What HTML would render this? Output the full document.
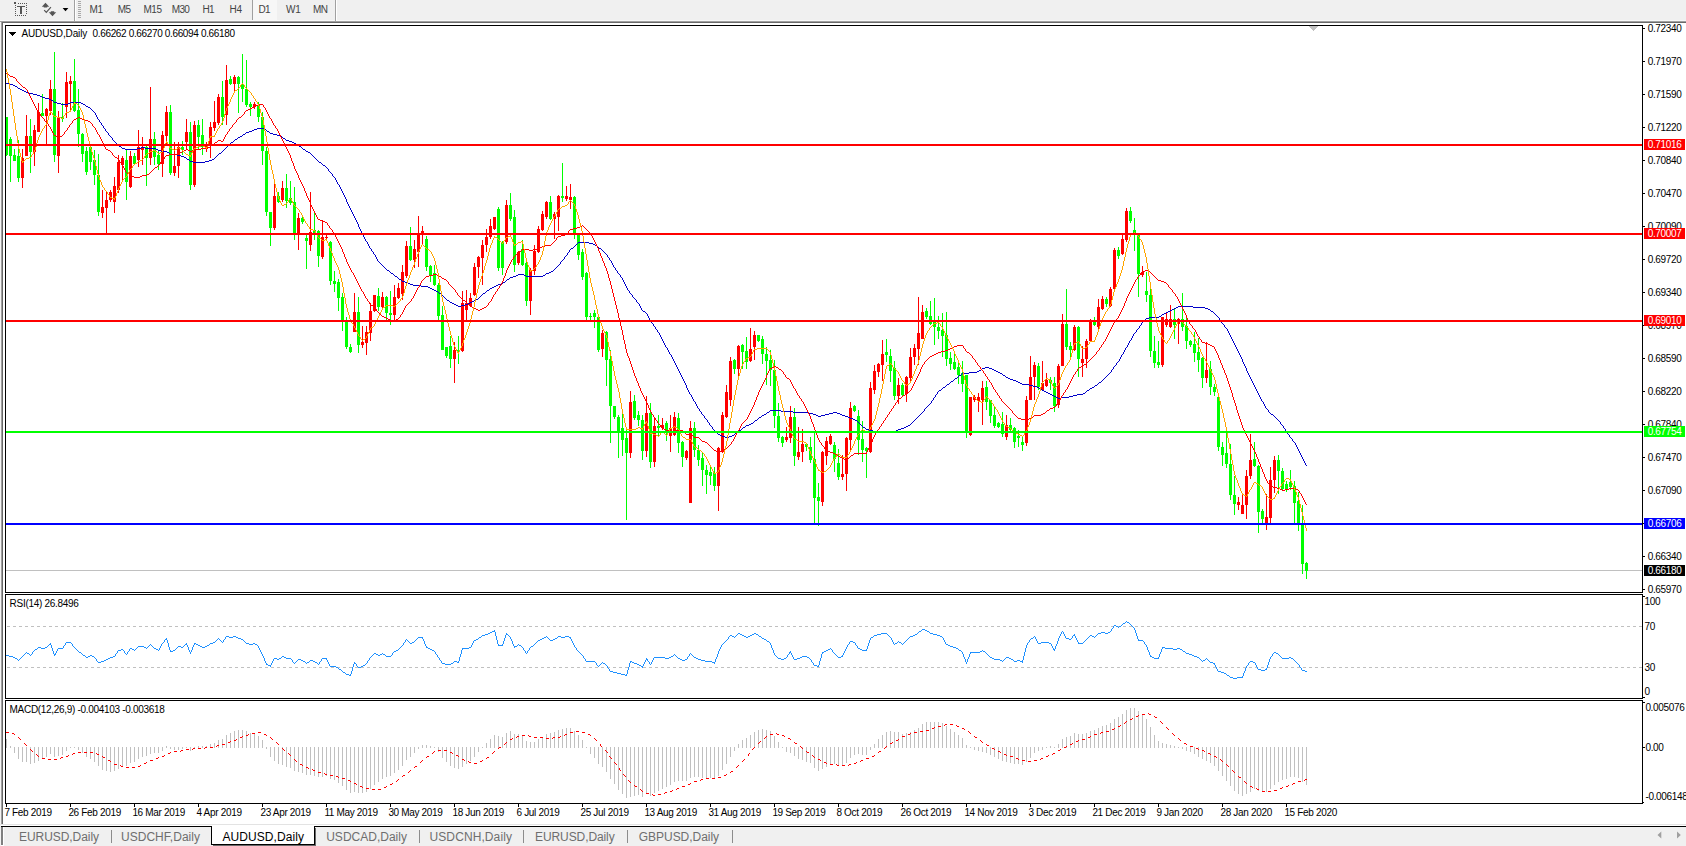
<!DOCTYPE html>
<html><head><meta charset="utf-8"><title>AUDUSD,Daily</title>
<style>
html,body{margin:0;padding:0}
body{width:1686px;height:846px;position:relative;overflow:hidden;background:#fff;font-family:"Liberation Sans",sans-serif}
.t{position:absolute;white-space:pre;font-family:"Liberation Sans",sans-serif}
.a{position:absolute}
</style></head><body>
<div class="a" style="left:0;top:0;width:1686px;height:21px;background:#f0f0f0"></div>
<div class="a" style="left:0;top:20px;width:1686px;height:1px;background:#f8f8f8"></div>
<div class="a" style="left:0;top:21px;width:1686px;height:1px;background:#a0a0a0"></div>
<div class="a" style="left:1px;top:22px;width:1685px;height:1px;background:#696969"></div>
<div class="a" style="left:0;top:22px;width:1px;height:824px;background:#f4f4f4"></div>
<div class="a" style="left:1px;top:22px;width:1px;height:803px;background:#a0a0a0"></div>
<div class="a" style="left:2px;top:23px;width:1px;height:802px;background:#696969"></div>
<div class="a" style="left:0;top:824px;width:1686px;height:1px;background:#e3e3e3"></div>
<div class="a" style="left:4px;top:827px;width:1682px;height:19px;background:#f0f0f0"></div>
<div class="a" style="left:1px;top:827px;width:2px;height:18px;background:#808080"></div>
<div class="a" style="left:1px;top:826px;width:1685px;height:1px;background:#000"></div>
<svg class="a" style="left:0;top:0" width="74" height="21" viewBox="0 0 74 21">
<path d="M18 3h1v1h-1zM20 3h1v1h-1zM22 3h1v1h-1zM24 3h1v1h-1zM26 3h1v1h-1zM15 5h1v1h-1zM15 7h1v1h-1zM15 9h1v1h-1zM15 11h1v1h-1zM15 13h1v1h-1zM15 15h1v1h-1zM26 5h1v1h-1zM26 7h1v1h-1zM26 9h1v1h-1zM26 11h1v1h-1zM26 13h1v1h-1zM17 15h1v1h-1zM19 15h1v1h-1zM21 15h1v1h-1zM23 15h1v1h-1zM25 15h1v1h-1zM14 2h2v2h-2zM17 6h8v1h-8zM20 7h2v7h-2z" fill="#555" shape-rendering="crispEdges"/>
<path d="M45.5 2.7l3.7 4h-2v0.9h-3.4v-0.9h-2z" fill="#555"/>
<path d="M52.5 16.2l3.7-4h-2v-0.9h-3.4v0.9h-2z" fill="#555"/>
<path d="M44.2 10.1l2.1 2.3 4.6-5.3" fill="none" stroke="#555" stroke-width="1.2"/>
<path d="M62.6 8h5.8l-2.9 3.3z" fill="#000"/>
</svg>
<div class="a" style="left:74px;top:0;width:1px;height:21px;background:#a0a0a0"></div>
<div class="a" style="left:75px;top:0;width:1px;height:21px;background:#fff"></div>
<svg class="a" style="left:78px;top:0" width="3" height="20" shape-rendering="crispEdges"><rect x="0" y="1" width="3" height="1" fill="#a8a8a8"/><rect x="0" y="3" width="3" height="1" fill="#a8a8a8"/><rect x="0" y="5" width="3" height="1" fill="#a8a8a8"/><rect x="0" y="7" width="3" height="1" fill="#a8a8a8"/><rect x="0" y="9" width="3" height="1" fill="#a8a8a8"/><rect x="0" y="11" width="3" height="1" fill="#a8a8a8"/><rect x="0" y="13" width="3" height="1" fill="#a8a8a8"/><rect x="0" y="15" width="3" height="1" fill="#a8a8a8"/><rect x="0" y="17" width="3" height="1" fill="#a8a8a8"/></svg>
<div class="a" style="left:252px;top:0;width:1px;height:20px;background:#a0a0a0"></div>
<div class="a" style="left:253px;top:0;width:24px;height:20px;background:#f7f7f7"></div>
<div class="t" style="left:89.60px;top:4.20px;font-size:10px;line-height:12px;color:#444;letter-spacing:-0.546px;">M1</div>
<div class="t" style="left:117.70px;top:4.20px;font-size:10px;line-height:12px;color:#444;letter-spacing:-0.546px;">M5</div>
<div class="t" style="left:143.60px;top:4.20px;font-size:10px;line-height:12px;color:#444;letter-spacing:-0.551px;">M15</div>
<div class="t" style="left:171.70px;top:4.20px;font-size:10px;line-height:12px;color:#444;letter-spacing:-0.618px;">M30</div>
<div class="t" style="left:202.40px;top:4.20px;font-size:10px;line-height:12px;color:#444;letter-spacing:-0.492px;">H1</div>
<div class="t" style="left:229.50px;top:4.20px;font-size:10px;line-height:12px;color:#444;letter-spacing:-0.142px;">H4</div>
<div class="t" style="left:258.50px;top:4.20px;font-size:10px;line-height:12px;color:#444;letter-spacing:-0.642px;">D1</div>
<div class="t" style="left:286.00px;top:4.20px;font-size:10px;line-height:12px;color:#444;letter-spacing:-0.300px;">W1</div>
<div class="t" style="left:312.90px;top:4.20px;font-size:10px;line-height:12px;color:#444;letter-spacing:-0.476px;">MN</div>
<div class="a" style="left:335px;top:0;width:1px;height:21px;background:#a0a0a0"></div>
<div class="a" style="left:336px;top:0;width:1px;height:21px;background:#fff"></div>
<svg width="1686" height="846" viewBox="0 0 1686 846" shape-rendering="crispEdges" style="position:absolute;left:0;top:0">
<defs><clipPath id="cm"><rect x="6" y="26" width="1636" height="566"/></clipPath><clipPath id="cr"><rect x="6" y="595" width="1636" height="103"/></clipPath><clipPath id="cd"><rect x="6" y="701" width="1636" height="102"/></clipPath></defs>
<rect x="6" y="570" width="1636" height="1" fill="#c0c0c0"/>
<g clip-path="url(#cm)">
<path d="M6 117h1V156h-1zM5 117h3V155h-3zM10 137h1V182h-1zM9 139h3V156h-3zM14 149h1V161h-1zM13 155h3V161h-3zM18 140h1V182h-1zM17 156h3V178h-3zM30 119h1V173h-1zM29 136h3V152h-3zM42 94h1V116h-1zM41 113h3V116h-3zM54 52h1V162h-1zM53 89h3V155h-3zM62 103h1V122h-1zM61 117h3V119h-3zM74 59h1V112h-1zM73 81h3V111h-3zM78 89h1V147h-1zM77 110h3V134h-3zM82 133h1V162h-1zM81 134h3V154h-3zM86 147h1V175h-1zM85 151h3V172h-3zM90 147h1V170h-1zM89 147h3V162h-3zM94 150h1V185h-1zM93 160h3V175h-3zM98 154h1V216h-1zM97 175h3V212h-3zM126 150h1V200h-1zM125 160h3V182h-3zM134 153h1V165h-1zM133 156h3V164h-3zM146 145h1V186h-1zM145 147h3V158h-3zM154 132h1V165h-1zM153 139h3V157h-3zM158 150h1V170h-1zM157 155h3V164h-3zM170 105h1V175h-1zM169 112h3V173h-3zM182 141h1V155h-1zM181 147h3V150h-3zM190 122h1V190h-1zM189 132h3V185h-3zM198 120h1V150h-1zM197 125h3V137h-3zM202 119h1V155h-1zM201 135h3V147h-3zM222 81h1V125h-1zM221 97h3V117h-3zM230 76h1V85h-1zM229 79h3V84h-3zM238 76h1V113h-1zM237 77h3V84h-3zM242 54h1V102h-1zM241 84h3V89h-3zM246 60h1V107h-1zM245 89h3V105h-3zM250 102h1V116h-1zM249 104h3V107h-3zM258 102h1V122h-1zM257 105h3V117h-3zM262 112h1V165h-1zM261 117h3V151h-3zM266 147h1V216h-1zM265 151h3V212h-3zM270 212h1V246h-1zM269 212h3V228h-3zM278 192h1V203h-1zM277 196h3V202h-3zM286 174h1V208h-1zM285 188h3V201h-3zM290 181h1V205h-1zM289 198h3V203h-3zM294 187h1V240h-1zM293 202h3V233h-3zM302 216h1V224h-1zM301 218h3V222h-3zM306 235h1V269h-1zM305 238h3V241h-3zM314 212h1V240h-1zM313 230h3V235h-3zM318 230h1V267h-1zM317 231h3V256h-3zM330 241h1V285h-1zM329 242h3V281h-3zM334 271h1V292h-1zM333 281h3V284h-3zM338 279h1V311h-1zM337 282h3V298h-3zM342 293h1V331h-1zM341 297h3V320h-3zM346 317h1V349h-1zM345 320h3V347h-3zM350 344h1V353h-1zM349 347h3V352h-3zM358 297h1V353h-1zM357 312h3V345h-3zM378 288h1V311h-1zM377 296h3V307h-3zM386 296h1V320h-1zM385 297h3V313h-3zM390 291h1V325h-1zM389 313h3V315h-3zM410 227h1V261h-1zM409 246h3V260h-3zM426 236h1V271h-1zM425 239h3V267h-3zM430 265h1V282h-1zM429 266h3V275h-3zM434 265h1V286h-1zM433 273h3V285h-3zM438 283h1V322h-1zM437 285h3V316h-3zM442 306h1V350h-1zM441 315h3V350h-3zM446 347h1V358h-1zM445 347h3V356h-3zM450 336h1V368h-1zM449 346h3V359h-3zM458 336h1V364h-1zM457 350h3V351h-3zM498 207h1V271h-1zM497 209h3V268h-3zM502 241h1V275h-1zM501 242h3V268h-3zM510 193h1V221h-1zM509 205h3V219h-3zM514 210h1V272h-1zM513 217h3V265h-3zM522 240h1V266h-1zM521 249h3V265h-3zM526 262h1V306h-1zM525 263h3V301h-3zM550 196h1V220h-1zM549 202h3V219h-3zM562 163h1V202h-1zM561 196h3V198h-3zM574 196h1V239h-1zM573 197h3V235h-3zM578 234h1V260h-1zM577 235h3V255h-3zM582 249h1V280h-1zM581 252h3V277h-3zM586 272h1V320h-1zM585 273h3V317h-3zM590 313h1V320h-1zM589 316h3V317h-3zM594 310h1V328h-1zM593 313h3V317h-3zM598 316h1V352h-1zM597 317h3V350h-3zM606 331h1V386h-1zM605 332h3V360h-3zM610 350h1V443h-1zM609 359h3V406h-3zM614 406h1V419h-1zM613 406h3V417h-3zM618 415h1V458h-1zM617 417h3V431h-3zM622 413h1V456h-1zM621 428h3V440h-3zM626 427h1V520h-1zM625 438h3V453h-3zM634 395h1V420h-1zM633 401h3V418h-3zM638 411h1V426h-1zM637 415h3V420h-3zM642 415h1V460h-1zM641 420h3V451h-3zM650 403h1V468h-1zM649 413h3V462h-3zM658 415h1V436h-1zM657 426h3V428h-3zM666 421h1V441h-1zM665 423h3V433h-3zM678 413h1V453h-1zM677 418h3V443h-3zM682 441h1V467h-1zM681 442h3V457h-3zM694 422h1V457h-1zM693 428h3V450h-3zM698 445h1V466h-1zM697 450h3V460h-3zM702 453h1V486h-1zM701 458h3V470h-3zM706 465h1V494h-1zM705 470h3V475h-3zM710 467h1V485h-1zM709 472h3V476h-3zM714 467h1V491h-1zM713 473h3V486h-3zM734 359h1V374h-1zM733 360h3V369h-3zM742 344h1V369h-1zM741 345h3V352h-3zM746 337h1V369h-1zM745 351h3V362h-3zM758 335h1V342h-1zM757 335h3V341h-3zM762 336h1V364h-1zM761 339h3V354h-3zM766 347h1V385h-1zM765 354h3V361h-3zM770 350h1V386h-1zM769 360h3V370h-3zM774 360h1V428h-1zM773 370h3V416h-3zM778 403h1V442h-1zM777 416h3V438h-3zM782 436h1V447h-1zM781 437h3V443h-3zM794 408h1V466h-1zM793 417h3V456h-3zM806 443h1V451h-1zM805 444h3V447h-3zM810 437h1V463h-1zM809 447h3V460h-3zM814 432h1V523h-1zM813 459h3V498h-3zM818 483h1V526h-1zM817 497h3V501h-3zM834 442h1V472h-1zM833 445h3V459h-3zM838 449h1V480h-1zM837 463h3V477h-3zM854 405h1V412h-1zM853 406h3V411h-3zM858 410h1V455h-1zM857 416h3V440h-3zM862 421h1V462h-1zM861 439h3V450h-3zM866 447h1V478h-1zM865 448h3V451h-3zM886 339h1V362h-1zM885 352h3V355h-3zM890 349h1V382h-1zM889 356h3V371h-3zM894 361h1V400h-1zM893 368h3V396h-3zM902 383h1V396h-1zM901 385h3V395h-3zM926 308h1V319h-1zM925 311h3V317h-3zM930 301h1V325h-1zM929 316h3V324h-3zM934 298h1V345h-1zM933 322h3V327h-3zM938 316h1V339h-1zM937 327h3V331h-3zM942 313h1V357h-1zM941 330h3V336h-3zM946 312h1V366h-1zM945 335h3V359h-3zM950 352h1V370h-1zM949 358h3V364h-3zM954 354h1V370h-1zM953 362h3V369h-3zM958 361h1V384h-1zM957 367h3V375h-3zM962 361h1V392h-1zM961 373h3V384h-3zM966 375h1V438h-1zM965 375h3V432h-3zM986 381h1V410h-1zM985 387h3V402h-3zM990 400h1V423h-1zM989 400h3V416h-3zM994 407h1V428h-1zM993 415h3V426h-3zM998 422h1V428h-1zM997 423h3V427h-3zM1002 412h1V437h-1zM1001 424h3V434h-3zM1010 418h1V431h-1zM1009 425h3V430h-3zM1014 427h1V448h-1zM1013 428h3V442h-3zM1018 430h1V447h-1zM1017 436h3V438h-3zM1022 437h1V451h-1zM1021 442h3V445h-3zM1038 363h1V390h-1zM1037 366h3V387h-3zM1050 377h1V390h-1zM1049 380h3V383h-3zM1054 377h1V412h-1zM1053 383h3V406h-3zM1066 289h1V350h-1zM1065 324h3V347h-3zM1070 342h1V359h-1zM1069 346h3V350h-3zM1078 326h1V377h-1zM1077 327h3V359h-3zM1094 317h1V326h-1zM1093 320h3V325h-3zM1106 297h1V307h-1zM1105 299h3V304h-3zM1118 247h1V259h-1zM1117 250h3V256h-3zM1130 207h1V223h-1zM1129 211h3V221h-3zM1134 218h1V251h-1zM1133 230h3V233h-3zM1138 233h1V297h-1zM1137 234h3V274h-3zM1146 272h1V302h-1zM1145 291h3V295h-3zM1150 289h1V357h-1zM1149 295h3V351h-3zM1154 336h1V368h-1zM1153 351h3V363h-3zM1158 341h1V368h-1zM1157 362h3V365h-3zM1174 309h1V339h-1zM1173 319h3V325h-3zM1182 293h1V331h-1zM1181 319h3V327h-3zM1186 315h1V349h-1zM1185 326h3V341h-3zM1190 340h1V347h-1zM1189 341h3V345h-3zM1194 332h1V362h-1zM1193 344h3V353h-3zM1198 338h1V372h-1zM1197 352h3V360h-3zM1202 357h1V388h-1zM1201 358h3V378h-3zM1210 361h1V395h-1zM1209 369h3V387h-3zM1214 384h1V396h-1zM1213 387h3V392h-3zM1218 396h1V451h-1zM1217 397h3V447h-3zM1222 442h1V466h-1zM1221 447h3V455h-3zM1226 433h1V468h-1zM1225 453h3V464h-3zM1230 444h1V500h-1zM1229 464h3V495h-3zM1234 476h1V515h-1zM1233 495h3V504h-3zM1254 442h1V467h-1zM1253 459h3V466h-3zM1258 465h1V533h-1zM1257 466h3V512h-3zM1262 509h1V523h-1zM1261 511h3V519h-3zM1278 455h1V494h-1zM1277 460h3V471h-3zM1282 468h1V490h-1zM1281 471h3V489h-3zM1286 481h1V492h-1zM1285 484h3V490h-3zM1290 470h1V490h-1zM1289 482h3V487h-3zM1294 481h1V524h-1zM1293 486h3V503h-3zM1298 492h1V531h-1zM1297 501h3V523h-3zM1302 505h1V574h-1zM1301 523h3V564h-3zM1306 562h1V579h-1zM1305 563h3V571h-3z" fill="#00ff00"/>
<path d="M22 149h1V188h-1zM21 158h3V178h-3zM26 115h1V156h-1zM25 136h3V156h-3zM34 125h1V166h-1zM33 130h3V152h-3zM38 103h1V132h-1zM37 112h3V132h-3zM46 108h1V145h-1zM45 109h3V116h-3zM50 80h1V115h-1zM49 89h3V111h-3zM58 111h1V173h-1zM57 117h3V156h-3zM66 72h1V118h-1zM65 82h3V107h-3zM70 76h1V112h-1zM69 81h3V84h-3zM102 190h1V218h-1zM101 207h3V213h-3zM106 192h1V233h-1zM105 200h3V208h-3zM110 190h1V202h-1zM109 192h3V200h-3zM114 177h1V213h-1zM113 186h3V202h-3zM118 155h1V193h-1zM117 162h3V190h-3zM122 156h1V180h-1zM121 158h3V165h-3zM130 151h1V188h-1zM129 156h3V187h-3zM138 130h1V167h-1zM137 147h3V160h-3zM142 137h1V165h-1zM141 147h3V150h-3zM150 87h1V165h-1zM149 139h3V158h-3zM162 131h1V177h-1zM161 135h3V164h-3zM166 106h1V145h-1zM165 112h3V136h-3zM174 142h1V176h-1zM173 166h3V173h-3zM178 142h1V178h-1zM177 147h3V166h-3zM186 119h1V150h-1zM185 132h3V142h-3zM194 121h1V187h-1zM193 125h3V185h-3zM206 142h1V152h-1zM205 145h3V149h-3zM210 122h1V158h-1zM209 127h3V145h-3zM214 101h1V131h-1zM213 122h3V128h-3zM218 94h1V125h-1zM217 97h3V123h-3zM226 65h1V125h-1zM225 80h3V115h-3zM234 75h1V92h-1zM233 77h3V84h-3zM254 102h1V109h-1zM253 104h3V107h-3zM274 183h1V230h-1zM273 196h3V228h-3zM282 181h1V202h-1zM281 188h3V200h-3zM298 213h1V250h-1zM297 218h3V233h-3zM310 192h1V251h-1zM309 232h3V245h-3zM322 220h1V259h-1zM321 237h3V257h-3zM326 235h1V240h-1zM325 237h3V238h-3zM354 293h1V332h-1zM353 312h3V332h-3zM362 326h1V348h-1zM361 342h3V345h-3zM366 326h1V355h-1zM365 332h3V343h-3zM370 303h1V341h-1zM369 311h3V333h-3zM374 295h1V312h-1zM373 295h3V311h-3zM382 292h1V310h-1zM381 297h3V307h-3zM394 285h1V322h-1zM393 297h3V315h-3zM398 283h1V299h-1zM397 288h3V298h-3zM402 265h1V300h-1zM401 272h3V294h-3zM406 241h1V278h-1zM405 246h3V276h-3zM414 240h1V268h-1zM413 249h3V260h-3zM418 216h1V267h-1zM417 234h3V252h-3zM422 226h1V245h-1zM421 231h3V234h-3zM454 342h1V383h-1zM453 350h3V359h-3zM462 291h1V352h-1zM461 303h3V351h-3zM466 290h1V320h-1zM465 303h3V310h-3zM470 293h1V307h-1zM469 298h3V306h-3zM474 263h1V296h-1zM473 267h3V295h-3zM478 256h1V278h-1zM477 257h3V267h-3zM482 240h1V285h-1zM481 245h3V258h-3zM486 229h1V252h-1zM485 237h3V245h-3zM490 219h1V239h-1zM489 226h3V237h-3zM494 217h1V230h-1zM493 217h3V229h-3zM506 200h1V244h-1zM505 205h3V242h-3zM518 251h1V265h-1zM517 252h3V263h-3zM530 268h1V315h-1zM529 270h3V301h-3zM534 245h1V275h-1zM533 251h3V271h-3zM538 226h1V253h-1zM537 229h3V252h-3zM542 211h1V231h-1zM541 214h3V230h-3zM546 201h1V219h-1zM545 202h3V217h-3zM554 212h1V239h-1zM553 214h3V219h-3zM558 195h1V231h-1zM557 196h3V217h-3zM566 186h1V201h-1zM565 196h3V199h-3zM570 184h1V209h-1zM569 197h3V200h-3zM602 330h1V357h-1zM601 333h3V349h-3zM630 391h1V458h-1zM629 402h3V453h-3zM646 396h1V457h-1zM645 413h3V451h-3zM654 418h1V467h-1zM653 426h3V462h-3zM662 418h1V430h-1zM661 425h3V428h-3zM670 415h1V452h-1zM669 428h3V436h-3zM674 412h1V436h-1zM673 417h3V435h-3zM686 450h1V460h-1zM685 451h3V458h-3zM690 421h1V503h-1zM689 428h3V503h-3zM718 447h1V511h-1zM717 448h3V486h-3zM722 412h1V453h-1zM721 415h3V452h-3zM726 385h1V418h-1zM725 392h3V417h-3zM730 357h1V406h-1zM729 361h3V400h-3zM738 345h1V376h-1zM737 346h3V369h-3zM750 328h1V362h-1zM749 349h3V361h-3zM754 331h1V360h-1zM753 335h3V347h-3zM786 427h1V442h-1zM785 437h3V440h-3zM790 406h1V443h-1zM789 417h3V438h-3zM798 427h1V460h-1zM797 452h3V457h-3zM802 429h1V462h-1zM801 444h3V452h-3zM822 451h1V506h-1zM821 452h3V502h-3zM826 437h1V465h-1zM825 441h3V456h-3zM830 434h1V445h-1zM829 436h3V444h-3zM842 455h1V480h-1zM841 474h3V477h-3zM846 437h1V491h-1zM845 438h3V474h-3zM850 402h1V451h-1zM849 408h3V440h-3zM870 382h1V453h-1zM869 388h3V452h-3zM874 365h1V394h-1zM873 371h3V390h-3zM878 363h1V377h-1zM877 364h3V372h-3zM882 340h1V381h-1zM881 354h3V365h-3zM898 378h1V404h-1zM897 385h3V396h-3zM906 376h1V402h-1zM905 377h3V394h-3zM910 348h1V381h-1zM909 357h3V378h-3zM914 344h1V365h-1zM913 348h3V357h-3zM918 297h1V365h-1zM917 333h3V349h-3zM922 305h1V339h-1zM921 312h3V339h-3zM970 397h1V436h-1zM969 397h3V435h-3zM974 395h1V402h-1zM973 397h3V400h-3zM978 393h1V412h-1zM977 397h3V401h-3zM982 381h1V425h-1zM981 388h3V400h-3zM1006 415h1V440h-1zM1005 425h3V437h-3zM1026 396h1V446h-1zM1025 400h3V443h-3zM1030 356h1V400h-1zM1029 377h3V400h-3zM1034 362h1V400h-1zM1033 365h3V377h-3zM1042 361h1V391h-1zM1041 383h3V390h-3zM1046 373h1V387h-1zM1045 380h3V386h-3zM1058 364h1V408h-1zM1057 366h3V405h-3zM1062 314h1V366h-1zM1061 324h3V366h-3zM1074 325h1V351h-1zM1073 327h3V350h-3zM1082 346h1V377h-1zM1081 359h3V363h-3zM1086 339h1V368h-1zM1085 341h3V359h-3zM1090 319h1V342h-1zM1089 320h3V341h-3zM1098 299h1V330h-1zM1097 307h3V327h-3zM1102 296h1V310h-1zM1101 299h3V309h-3zM1110 287h1V307h-1zM1109 289h3V306h-3zM1114 248h1V290h-1zM1113 250h3V289h-3zM1122 235h1V255h-1zM1121 239h3V254h-3zM1126 208h1V242h-1zM1125 211h3V240h-3zM1142 266h1V277h-1zM1141 272h3V275h-3zM1162 317h1V367h-1zM1161 317h3V365h-3zM1166 312h1V327h-1zM1165 319h3V325h-3zM1170 305h1V328h-1zM1169 319h3V327h-3zM1178 318h1V344h-1zM1177 319h3V324h-3zM1206 342h1V383h-1zM1205 370h3V378h-3zM1238 497h1V510h-1zM1237 502h3V505h-3zM1242 495h1V514h-1zM1241 505h3V514h-3zM1246 470h1V519h-1zM1245 476h3V505h-3zM1250 434h1V479h-1zM1249 460h3V476h-3zM1266 494h1V530h-1zM1265 517h3V523h-3zM1270 467h1V523h-1zM1269 480h3V518h-3zM1274 456h1V493h-1zM1273 460h3V480h-3z" fill="#ff0000"/>
<path d="M6 83h3v1h-3zM9 84h4v1h-4zM13 85h2v1h-2zM15 86h2v1h-2zM18 88h2v1h-2zM20 89h2v1h-2zM22 90h2v1h-2zM24 91h2v1h-2zM26 92h3v1h-3zM29 93h4v1h-4zM33 94h4v1h-4zM37 95h3v1h-3zM40 96h2v1h-2zM42 97h3v1h-3zM45 98h4v1h-4zM49 99h2v1h-2zM51 100h2v1h-2zM54 102h3v1h-3zM57 103h4v1h-4zM61 104h7v1h-7zM68 103h2v1h-2zM70 102h11v1h-11zM81 103h2v1h-2zM83 104h2v1h-2zM86 106h2v1h-2zM88 107h2v1h-2zM119 146h2v1h-2zM122 148h3v1h-3zM125 149h12v1h-12zM137 148h4v1h-4zM141 147h4v1h-4zM145 148h11v1h-11zM156 149h2v1h-2zM158 150h3v1h-3zM161 151h6v1h-6zM167 152h2v1h-2zM170 154h7v1h-7zM177 155h4v1h-4zM181 156h3v1h-3zM184 157h2v1h-2zM187 159h2v1h-2zM190 161h3v1h-3zM193 162h12v1h-12zM205 161h4v1h-4zM209 160h3v1h-3zM212 159h2v1h-2zM219 153h2v1h-2zM231 142h2v1h-2zM235 139h2v1h-2zM238 137h2v1h-2zM240 136h2v1h-2zM243 134h2v1h-2zM246 132h3v1h-3zM249 131h3v1h-3zM252 130h2v1h-2zM254 129h3v1h-3zM257 128h7v1h-7zM264 129h2v1h-2zM267 131h2v1h-2zM270 133h3v1h-3zM273 134h4v1h-4zM277 135h3v1h-3zM280 136h2v1h-2zM283 138h2v1h-2zM286 140h3v1h-3zM289 141h3v1h-3zM292 142h2v1h-2zM294 143h2v1h-2zM296 144h2v1h-2zM299 146h2v1h-2zM303 149h2v1h-2zM306 151h2v1h-2zM308 152h2v1h-2zM319 162h2v1h-2zM323 165h2v1h-2zM387 270h2v1h-2zM391 273h2v1h-2zM395 276h2v1h-2zM399 279h2v1h-2zM402 281h3v1h-3zM405 282h3v1h-3zM408 283h2v1h-2zM410 284h3v1h-3zM413 285h8v1h-8zM421 286h7v1h-7zM428 287h2v1h-2zM430 288h2v1h-2zM432 289h2v1h-2zM434 290h2v1h-2zM436 291h2v1h-2zM439 293h2v1h-2zM447 300h2v1h-2zM450 302h2v1h-2zM452 303h2v1h-2zM454 304h2v1h-2zM456 305h2v1h-2zM458 306h3v1h-3zM461 305h4v1h-4zM465 304h3v1h-3zM468 303h2v1h-2zM470 302h2v1h-2zM472 301h2v1h-2zM474 300h2v1h-2zM476 299h2v1h-2zM483 293h2v1h-2zM487 290h2v1h-2zM490 288h2v1h-2zM492 287h2v1h-2zM494 286h2v1h-2zM496 285h2v1h-2zM498 284h3v1h-3zM501 283h2v1h-2zM503 282h2v1h-2zM507 279h2v1h-2zM510 277h3v1h-3zM513 276h3v1h-3zM516 275h2v1h-2zM518 274h6v1h-6zM524 275h2v1h-2zM526 276h17v1h-17zM543 275h2v1h-2zM546 273h3v1h-3zM549 272h2v1h-2zM551 271h2v1h-2zM571 248h2v1h-2zM578 242h11v1h-11zM589 243h4v1h-4zM593 244h2v1h-2zM595 245h2v1h-2zM599 248h2v1h-2zM643 311h2v1h-2zM718 434h2v1h-2zM720 435h2v1h-2zM722 436h3v1h-3zM725 437h4v1h-4zM729 436h3v1h-3zM732 435h2v1h-2zM735 433h2v1h-2zM739 430h2v1h-2zM743 427h2v1h-2zM746 425h3v1h-3zM749 424h2v1h-2zM751 423h2v1h-2zM755 420h2v1h-2zM759 417h2v1h-2zM762 415h2v1h-2zM764 414h2v1h-2zM767 412h2v1h-2zM770 410h11v1h-11zM781 411h12v1h-12zM793 412h16v1h-16zM809 413h4v1h-4zM813 414h3v1h-3zM816 415h2v1h-2zM818 416h3v1h-3zM821 415h4v1h-4zM825 414h4v1h-4zM829 413h4v1h-4zM833 412h4v1h-4zM837 413h3v1h-3zM840 414h2v1h-2zM842 415h3v1h-3zM845 416h3v1h-3zM848 417h2v1h-2zM850 418h3v1h-3zM853 419h2v1h-2zM855 420h2v1h-2zM863 427h2v1h-2zM866 429h3v1h-3zM869 430h4v1h-4zM873 431h4v1h-4zM877 432h16v1h-16zM893 431h3v1h-3zM896 430h2v1h-2zM898 429h3v1h-3zM901 428h3v1h-3zM904 427h2v1h-2zM906 426h2v1h-2zM908 425h2v1h-2zM939 390h2v1h-2zM943 387h2v1h-2zM947 384h2v1h-2zM951 381h2v1h-2zM955 378h2v1h-2zM959 375h2v1h-2zM962 373h7v1h-7zM969 372h8v1h-8zM977 371h2v1h-2zM979 370h2v1h-2zM982 368h3v1h-3zM985 367h4v1h-4zM989 368h3v1h-3zM992 369h2v1h-2zM994 370h2v1h-2zM996 371h2v1h-2zM998 372h2v1h-2zM1000 373h2v1h-2zM1003 375h2v1h-2zM1006 377h2v1h-2zM1008 378h2v1h-2zM1010 379h3v1h-3zM1013 380h3v1h-3zM1016 381h2v1h-2zM1018 382h2v1h-2zM1020 383h2v1h-2zM1022 384h7v1h-7zM1029 385h4v1h-4zM1033 386h4v1h-4zM1037 387h2v1h-2zM1039 388h2v1h-2zM1042 390h2v1h-2zM1044 391h2v1h-2zM1046 392h2v1h-2zM1048 393h2v1h-2zM1050 394h2v1h-2zM1052 395h2v1h-2zM1054 396h2v1h-2zM1056 397h2v1h-2zM1058 398h3v1h-3zM1061 397h8v1h-8zM1069 396h4v1h-4zM1073 395h4v1h-4zM1077 394h6v1h-6zM1083 393h2v1h-2zM1087 390h2v1h-2zM1090 388h2v1h-2zM1092 387h2v1h-2zM1095 385h2v1h-2zM1099 382h2v1h-2zM1146 318h3v1h-3zM1149 317h10v1h-10zM1159 316h2v1h-2zM1162 314h2v1h-2zM1164 313h2v1h-2zM1166 312h2v1h-2zM1168 311h2v1h-2zM1170 310h2v1h-2zM1172 309h2v1h-2zM1174 308h2v1h-2zM1176 307h2v1h-2zM1178 306h15v1h-15zM1193 307h12v1h-12zM1205 308h3v1h-3zM1208 309h2v1h-2zM1211 311h2v1h-2zM1271 414h2v1h-2zM17 87h1v1h-1zM53 101h1v1h-1zM85 105h1v1h-1zM90 108h1v1h-1zM91 109h1v1h-1zM92 110h1v1h-1zM93 111h1v1h-1zM94 112h1v1h-1zM95 113h1v2h-1zM96 115h1v2h-1zM97 117h1v2h-1zM98 119h1v1h-1zM99 120h1v2h-1zM100 122h1v1h-1zM101 123h1v2h-1zM102 125h1v1h-1zM103 126h1v2h-1zM104 128h1v1h-1zM105 129h1v2h-1zM106 131h1v1h-1zM107 132h1v1h-1zM108 133h1v2h-1zM109 135h1v1h-1zM110 136h1v1h-1zM111 137h1v1h-1zM112 138h1v2h-1zM113 140h1v1h-1zM114 141h1v1h-1zM115 142h1v1h-1zM116 143h1v1h-1zM117 144h1v1h-1zM118 145h1v1h-1zM121 147h1v1h-1zM169 153h1v1h-1zM186 158h1v1h-1zM189 160h1v1h-1zM214 158h1v1h-1zM215 157h1v1h-1zM216 156h1v1h-1zM217 155h1v1h-1zM218 154h1v1h-1zM221 152h1v1h-1zM222 151h1v1h-1zM223 150h1v1h-1zM224 149h1v1h-1zM225 148h1v1h-1zM226 147h1v1h-1zM227 146h1v1h-1zM228 145h1v1h-1zM229 144h1v1h-1zM230 143h1v1h-1zM233 141h1v1h-1zM234 140h1v1h-1zM237 138h1v1h-1zM242 135h1v1h-1zM245 133h1v1h-1zM266 130h1v1h-1zM269 132h1v1h-1zM282 137h1v1h-1zM285 139h1v1h-1zM298 145h1v1h-1zM301 147h1v1h-1zM302 148h1v1h-1zM305 150h1v1h-1zM310 153h1v1h-1zM311 154h1v1h-1zM312 155h1v1h-1zM313 156h1v1h-1zM314 157h1v1h-1zM315 158h1v1h-1zM316 159h1v1h-1zM317 160h1v1h-1zM318 161h1v1h-1zM321 163h1v1h-1zM322 164h1v1h-1zM325 166h1v1h-1zM326 167h1v1h-1zM327 168h1v1h-1zM328 169h1v2h-1zM329 171h1v1h-1zM330 172h1v1h-1zM331 173h1v1h-1zM332 174h1v2h-1zM333 176h1v1h-1zM334 177h1v1h-1zM335 178h1v2h-1zM336 180h1v2h-1zM337 182h1v2h-1zM338 184h1v1h-1zM339 185h1v2h-1zM340 187h1v2h-1zM341 189h1v2h-1zM342 191h1v2h-1zM343 193h1v2h-1zM344 195h1v2h-1zM345 197h1v2h-1zM346 199h1v3h-1zM347 202h1v2h-1zM348 204h1v2h-1zM349 206h1v2h-1zM350 208h1v2h-1zM351 210h1v2h-1zM352 212h1v2h-1zM353 214h1v2h-1zM354 216h1v2h-1zM355 218h1v2h-1zM356 220h1v2h-1zM357 222h1v2h-1zM358 224h1v3h-1zM359 227h1v2h-1zM360 229h1v2h-1zM361 231h1v2h-1zM362 233h1v2h-1zM363 235h1v2h-1zM364 237h1v2h-1zM365 239h1v2h-1zM366 241h1v1h-1zM367 242h1v2h-1zM368 244h1v2h-1zM369 246h1v2h-1zM370 248h1v1h-1zM371 249h1v2h-1zM372 251h1v1h-1zM373 252h1v2h-1zM374 254h1v1h-1zM375 255h1v2h-1zM376 257h1v2h-1zM377 259h1v2h-1zM378 261h1v1h-1zM379 262h1v1h-1zM380 263h1v1h-1zM381 264h1v1h-1zM382 265h1v1h-1zM383 266h1v1h-1zM384 267h1v1h-1zM385 268h1v1h-1zM386 269h1v1h-1zM389 271h1v1h-1zM390 272h1v1h-1zM393 274h1v1h-1zM394 275h1v1h-1zM397 277h1v1h-1zM398 278h1v1h-1zM401 280h1v1h-1zM438 292h1v1h-1zM441 294h1v1h-1zM442 295h1v1h-1zM443 296h1v1h-1zM444 297h1v1h-1zM445 298h1v1h-1zM446 299h1v1h-1zM449 301h1v1h-1zM478 298h1v1h-1zM479 297h1v1h-1zM480 296h1v1h-1zM481 295h1v1h-1zM482 294h1v1h-1zM485 292h1v1h-1zM486 291h1v1h-1zM489 289h1v1h-1zM505 281h1v1h-1zM506 280h1v1h-1zM509 278h1v1h-1zM545 274h1v1h-1zM553 270h1v1h-1zM554 269h1v1h-1zM555 268h1v1h-1zM556 267h1v1h-1zM557 266h1v1h-1zM558 265h1v1h-1zM559 264h1v1h-1zM560 262h1v2h-1zM561 261h1v1h-1zM562 260h1v1h-1zM563 259h1v1h-1zM564 257h1v2h-1zM565 256h1v1h-1zM566 255h1v1h-1zM567 253h1v2h-1zM568 252h1v1h-1zM569 250h1v2h-1zM570 249h1v1h-1zM573 247h1v1h-1zM574 246h1v1h-1zM575 245h1v1h-1zM576 244h1v1h-1zM577 243h1v1h-1zM597 246h1v1h-1zM598 247h1v1h-1zM601 249h1v1h-1zM602 250h1v1h-1zM603 251h1v1h-1zM604 252h1v1h-1zM605 253h1v1h-1zM606 254h1v1h-1zM607 255h1v2h-1zM608 257h1v1h-1zM609 258h1v2h-1zM610 260h1v1h-1zM611 261h1v2h-1zM612 263h1v2h-1zM613 265h1v2h-1zM614 267h1v1h-1zM615 268h1v2h-1zM616 270h1v1h-1zM617 271h1v2h-1zM618 273h1v1h-1zM619 274h1v1h-1zM620 275h1v2h-1zM621 277h1v1h-1zM622 278h1v2h-1zM623 280h1v2h-1zM624 282h1v2h-1zM625 284h1v2h-1zM626 286h1v2h-1zM627 288h1v2h-1zM628 290h1v1h-1zM629 291h1v2h-1zM630 293h1v1h-1zM631 294h1v1h-1zM632 295h1v2h-1zM633 297h1v1h-1zM634 298h1v1h-1zM635 299h1v1h-1zM636 300h1v2h-1zM637 302h1v1h-1zM638 303h1v1h-1zM639 304h1v2h-1zM640 306h1v2h-1zM641 308h1v2h-1zM642 310h1v1h-1zM645 312h1v1h-1zM646 313h1v1h-1zM647 314h1v2h-1zM648 316h1v2h-1zM649 318h1v2h-1zM650 320h1v1h-1zM651 321h1v2h-1zM652 323h1v1h-1zM653 324h1v2h-1zM654 326h1v1h-1zM655 327h1v2h-1zM656 329h1v1h-1zM657 330h1v2h-1zM658 332h1v1h-1zM659 333h1v2h-1zM660 335h1v2h-1zM661 337h1v2h-1zM662 339h1v2h-1zM663 341h1v2h-1zM664 343h1v2h-1zM665 345h1v2h-1zM666 347h1v1h-1zM667 348h1v2h-1zM668 350h1v2h-1zM669 352h1v2h-1zM670 354h1v1h-1zM671 355h1v2h-1zM672 357h1v2h-1zM673 359h1v2h-1zM674 361h1v2h-1zM675 363h1v2h-1zM676 365h1v2h-1zM677 367h1v2h-1zM678 369h1v2h-1zM679 371h1v2h-1zM680 373h1v2h-1zM681 375h1v2h-1zM682 377h1v2h-1zM683 379h1v2h-1zM684 381h1v2h-1zM685 383h1v2h-1zM686 385h1v3h-1zM687 388h1v2h-1zM688 390h1v2h-1zM689 392h1v2h-1zM690 394h1v1h-1zM691 395h1v2h-1zM692 397h1v2h-1zM693 399h1v2h-1zM694 401h1v1h-1zM695 402h1v2h-1zM696 404h1v2h-1zM697 406h1v2h-1zM698 408h1v1h-1zM699 409h1v2h-1zM700 411h1v1h-1zM701 412h1v2h-1zM702 414h1v1h-1zM703 415h1v1h-1zM704 416h1v2h-1zM705 418h1v1h-1zM706 419h1v1h-1zM707 420h1v2h-1zM708 422h1v1h-1zM709 423h1v2h-1zM710 425h1v1h-1zM711 426h1v1h-1zM712 427h1v2h-1zM713 429h1v1h-1zM714 430h1v1h-1zM715 431h1v1h-1zM716 432h1v1h-1zM717 433h1v1h-1zM734 434h1v1h-1zM737 432h1v1h-1zM738 431h1v1h-1zM741 429h1v1h-1zM742 428h1v1h-1zM745 426h1v1h-1zM753 422h1v1h-1zM754 421h1v1h-1zM757 419h1v1h-1zM758 418h1v1h-1zM761 416h1v1h-1zM766 413h1v1h-1zM769 411h1v1h-1zM857 421h1v1h-1zM858 422h1v1h-1zM859 423h1v1h-1zM860 424h1v1h-1zM861 425h1v1h-1zM862 426h1v1h-1zM865 428h1v1h-1zM910 424h1v1h-1zM911 423h1v1h-1zM912 422h1v1h-1zM913 421h1v1h-1zM914 420h1v1h-1zM915 419h1v1h-1zM916 418h1v1h-1zM917 417h1v1h-1zM918 416h1v1h-1zM919 415h1v1h-1zM920 414h1v1h-1zM921 413h1v1h-1zM922 412h1v1h-1zM923 411h1v1h-1zM924 409h1v2h-1zM925 408h1v1h-1zM926 407h1v1h-1zM927 406h1v1h-1zM928 405h1v1h-1zM929 404h1v1h-1zM930 403h1v1h-1zM931 401h1v2h-1zM932 400h1v1h-1zM933 398h1v2h-1zM934 397h1v1h-1zM935 395h1v2h-1zM936 394h1v1h-1zM937 392h1v2h-1zM938 391h1v1h-1zM941 389h1v1h-1zM942 388h1v1h-1zM945 386h1v1h-1zM946 385h1v1h-1zM949 383h1v1h-1zM950 382h1v1h-1zM953 380h1v1h-1zM954 379h1v1h-1zM957 377h1v1h-1zM958 376h1v1h-1zM961 374h1v1h-1zM981 369h1v1h-1zM1002 374h1v1h-1zM1005 376h1v1h-1zM1041 389h1v1h-1zM1085 392h1v1h-1zM1086 391h1v1h-1zM1089 389h1v1h-1zM1094 386h1v1h-1zM1097 384h1v1h-1zM1098 383h1v1h-1zM1101 381h1v1h-1zM1102 380h1v1h-1zM1103 379h1v1h-1zM1104 378h1v1h-1zM1105 377h1v1h-1zM1106 376h1v1h-1zM1107 375h1v1h-1zM1108 374h1v1h-1zM1109 373h1v1h-1zM1110 372h1v1h-1zM1111 370h1v2h-1zM1112 369h1v1h-1zM1113 367h1v2h-1zM1114 366h1v1h-1zM1115 365h1v1h-1zM1116 363h1v2h-1zM1117 362h1v1h-1zM1118 361h1v1h-1zM1119 359h1v2h-1zM1120 357h1v2h-1zM1121 355h1v2h-1zM1122 354h1v1h-1zM1123 352h1v2h-1zM1124 350h1v2h-1zM1125 348h1v2h-1zM1126 347h1v1h-1zM1127 345h1v2h-1zM1128 343h1v2h-1zM1129 341h1v2h-1zM1130 340h1v1h-1zM1131 338h1v2h-1zM1132 336h1v2h-1zM1133 334h1v2h-1zM1134 333h1v1h-1zM1135 332h1v1h-1zM1136 330h1v2h-1zM1137 329h1v1h-1zM1138 328h1v1h-1zM1139 326h1v2h-1zM1140 325h1v1h-1zM1141 323h1v2h-1zM1142 322h1v1h-1zM1143 321h1v1h-1zM1144 320h1v1h-1zM1145 319h1v1h-1zM1161 315h1v1h-1zM1210 310h1v1h-1zM1213 312h1v1h-1zM1214 313h1v1h-1zM1215 314h1v1h-1zM1216 315h1v1h-1zM1217 316h1v1h-1zM1218 317h1v1h-1zM1219 318h1v2h-1zM1220 320h1v1h-1zM1221 321h1v2h-1zM1222 323h1v1h-1zM1223 324h1v1h-1zM1224 325h1v2h-1zM1225 327h1v1h-1zM1226 328h1v1h-1zM1227 329h1v2h-1zM1228 331h1v2h-1zM1229 333h1v2h-1zM1230 335h1v2h-1zM1231 337h1v2h-1zM1232 339h1v2h-1zM1233 341h1v2h-1zM1234 343h1v2h-1zM1235 345h1v2h-1zM1236 347h1v2h-1zM1237 349h1v2h-1zM1238 351h1v2h-1zM1239 353h1v2h-1zM1240 355h1v2h-1zM1241 357h1v2h-1zM1242 359h1v3h-1zM1243 362h1v2h-1zM1244 364h1v2h-1zM1245 366h1v2h-1zM1246 368h1v3h-1zM1247 371h1v2h-1zM1248 373h1v2h-1zM1249 375h1v2h-1zM1250 377h1v2h-1zM1251 379h1v2h-1zM1252 381h1v2h-1zM1253 383h1v2h-1zM1254 385h1v2h-1zM1255 387h1v2h-1zM1256 389h1v2h-1zM1257 391h1v2h-1zM1258 393h1v2h-1zM1259 395h1v2h-1zM1260 397h1v2h-1zM1261 399h1v2h-1zM1262 401h1v1h-1zM1263 402h1v2h-1zM1264 404h1v2h-1zM1265 406h1v2h-1zM1266 408h1v1h-1zM1267 409h1v1h-1zM1268 410h1v2h-1zM1269 412h1v1h-1zM1270 413h1v1h-1zM1273 415h1v1h-1zM1274 416h1v1h-1zM1275 417h1v1h-1zM1276 418h1v1h-1zM1277 419h1v1h-1zM1278 420h1v1h-1zM1279 421h1v1h-1zM1280 422h1v2h-1zM1281 424h1v1h-1zM1282 425h1v1h-1zM1283 426h1v2h-1zM1284 428h1v1h-1zM1285 429h1v2h-1zM1286 431h1v1h-1zM1287 432h1v2h-1zM1288 434h1v1h-1zM1289 435h1v2h-1zM1290 437h1v1h-1zM1291 438h1v1h-1zM1292 439h1v2h-1zM1293 441h1v1h-1zM1294 442h1v1h-1zM1295 443h1v2h-1zM1296 445h1v2h-1zM1297 447h1v2h-1zM1298 449h1v2h-1zM1299 451h1v2h-1zM1300 453h1v2h-1zM1301 455h1v2h-1zM1302 457h1v2h-1zM1303 459h1v2h-1zM1304 461h1v2h-1zM1305 463h1v2h-1zM1306 465h1v1h-1z" fill="#0000c8"/>
<path d="M7 74h2v1h-2zM10 76h3v1h-3zM13 77h2v1h-2zM23 87h2v1h-2zM54 135h2v1h-2zM56 136h2v1h-2zM58 137h2v1h-2zM60 136h2v1h-2zM74 119h2v1h-2zM76 118h2v1h-2zM78 117h2v1h-2zM80 118h2v1h-2zM82 119h3v1h-3zM85 120h3v1h-3zM88 121h2v1h-2zM106 149h2v1h-2zM108 150h2v1h-2zM115 157h2v1h-2zM127 173h2v1h-2zM130 175h2v1h-2zM132 176h2v1h-2zM134 177h6v1h-6zM140 176h2v1h-2zM142 175h5v1h-5zM147 174h2v1h-2zM155 167h2v1h-2zM166 155h3v1h-3zM169 154h8v1h-8zM177 153h3v1h-3zM180 152h2v1h-2zM182 151h2v1h-2zM184 150h2v1h-2zM186 149h2v1h-2zM188 150h2v1h-2zM190 151h2v1h-2zM192 150h2v1h-2zM194 149h7v1h-7zM201 148h7v1h-7zM208 147h2v1h-2zM211 145h2v1h-2zM215 142h2v1h-2zM218 140h3v1h-3zM221 141h2v1h-2zM239 117h2v1h-2zM246 110h2v1h-2zM248 109h2v1h-2zM250 108h2v1h-2zM252 107h2v1h-2zM254 106h2v1h-2zM256 105h2v1h-2zM258 104h5v1h-5zM318 219h2v1h-2zM320 220h2v1h-2zM322 221h3v1h-3zM325 222h2v1h-2zM371 305h2v1h-2zM382 316h2v1h-2zM384 317h2v1h-2zM386 318h2v1h-2zM388 319h2v1h-2zM390 320h6v1h-6zM396 319h2v1h-2zM426 276h3v1h-3zM429 275h4v1h-4zM433 274h4v1h-4zM437 275h2v1h-2zM439 276h2v1h-2zM442 278h2v1h-2zM444 279h2v1h-2zM463 300h2v1h-2zM470 306h2v1h-2zM472 307h2v1h-2zM474 308h2v1h-2zM476 309h2v1h-2zM478 310h2v1h-2zM480 309h2v1h-2zM482 308h2v1h-2zM484 307h2v1h-2zM519 251h2v1h-2zM522 249h7v1h-7zM529 250h4v1h-4zM533 249h4v1h-4zM537 248h3v1h-3zM540 247h2v1h-2zM542 246h3v1h-3zM545 245h6v1h-6zM558 236h3v1h-3zM561 235h4v1h-4zM565 234h2v1h-2zM570 229h3v1h-3zM573 228h4v1h-4zM577 227h3v1h-3zM580 226h2v1h-2zM662 428h2v1h-2zM664 429h2v1h-2zM666 430h3v1h-3zM669 431h4v1h-4zM673 430h10v1h-10zM686 434h5v1h-5zM691 435h2v1h-2zM694 437h5v1h-5zM702 441h3v1h-3zM705 442h2v1h-2zM714 450h2v1h-2zM716 451h2v1h-2zM718 452h2v1h-2zM720 451h2v1h-2zM722 450h2v1h-2zM724 449h2v1h-2zM770 368h2v1h-2zM772 367h2v1h-2zM774 366h2v1h-2zM776 367h2v1h-2zM779 369h2v1h-2zM787 378h2v1h-2zM826 450h2v1h-2zM828 451h2v1h-2zM830 452h3v1h-3zM833 453h2v1h-2zM835 454h2v1h-2zM838 456h2v1h-2zM840 457h2v1h-2zM842 458h2v1h-2zM844 459h2v1h-2zM851 455h2v1h-2zM854 453h13v1h-13zM899 398h2v1h-2zM903 395h2v1h-2zM907 392h2v1h-2zM930 356h2v1h-2zM932 355h2v1h-2zM934 354h2v1h-2zM936 353h2v1h-2zM938 352h3v1h-3zM941 351h4v1h-4zM945 350h3v1h-3zM948 349h2v1h-2zM950 348h2v1h-2zM952 347h2v1h-2zM954 346h3v1h-3zM957 345h6v1h-6zM967 352h2v1h-2zM1018 418h3v1h-3zM1021 419h8v1h-8zM1029 418h2v1h-2zM1031 417h2v1h-2zM1034 415h7v1h-7zM1041 414h2v1h-2zM1043 413h2v1h-2zM1047 410h2v1h-2zM1050 408h3v1h-3zM1053 407h2v1h-2zM1079 367h2v1h-2zM1082 365h2v1h-2zM1084 364h2v1h-2zM1142 271h3v1h-3zM1145 270h3v1h-3zM1148 271h2v1h-2zM1158 280h3v1h-3zM1161 281h3v1h-3zM1164 282h2v1h-2zM1202 342h3v1h-3zM1205 343h3v1h-3zM1208 344h2v1h-2zM1210 345h2v1h-2zM1212 346h2v1h-2zM1270 486h3v1h-3zM1273 487h4v1h-4zM1277 488h3v1h-3zM1280 489h2v1h-2zM1282 490h3v1h-3zM1285 489h4v1h-4zM1289 488h7v1h-7zM1296 489h2v1h-2zM6 73h1v1h-1zM9 75h1v1h-1zM15 78h1v1h-1zM16 79h1v2h-1zM17 81h1v1h-1zM18 82h1v1h-1zM19 83h1v1h-1zM20 84h1v1h-1zM21 85h1v1h-1zM22 86h1v1h-1zM25 88h1v1h-1zM26 89h1v1h-1zM27 90h1v2h-1zM28 92h1v2h-1zM29 94h1v2h-1zM30 96h1v2h-1zM31 98h1v2h-1zM32 100h1v2h-1zM33 102h1v2h-1zM34 104h1v2h-1zM35 106h1v2h-1zM36 108h1v2h-1zM37 110h1v2h-1zM38 112h1v1h-1zM39 113h1v1h-1zM40 114h1v2h-1zM41 116h1v1h-1zM42 117h1v1h-1zM43 118h1v1h-1zM44 119h1v2h-1zM45 121h1v1h-1zM46 122h1v1h-1zM47 123h1v1h-1zM48 124h1v2h-1zM49 126h1v1h-1zM50 127h1v2h-1zM51 129h1v2h-1zM52 131h1v2h-1zM53 133h1v2h-1zM62 135h1v1h-1zM63 134h1v1h-1zM64 132h1v2h-1zM65 131h1v1h-1zM66 130h1v1h-1zM67 128h1v2h-1zM68 127h1v1h-1zM69 125h1v2h-1zM70 124h1v1h-1zM71 123h1v1h-1zM72 121h1v2h-1zM73 120h1v1h-1zM90 122h1v1h-1zM91 123h1v1h-1zM92 124h1v2h-1zM93 126h1v1h-1zM94 127h1v1h-1zM95 128h1v2h-1zM96 130h1v2h-1zM97 132h1v2h-1zM98 134h1v1h-1zM99 135h1v2h-1zM100 137h1v2h-1zM101 139h1v2h-1zM102 141h1v2h-1zM103 143h1v2h-1zM104 145h1v2h-1zM105 147h1v2h-1zM110 151h1v1h-1zM111 152h1v1h-1zM112 153h1v2h-1zM113 155h1v1h-1zM114 156h1v1h-1zM117 158h1v1h-1zM118 159h1v1h-1zM119 160h1v2h-1zM120 162h1v1h-1zM121 163h1v2h-1zM122 165h1v1h-1zM123 166h1v2h-1zM124 168h1v2h-1zM125 170h1v2h-1zM126 172h1v1h-1zM129 174h1v1h-1zM149 173h1v1h-1zM150 172h1v1h-1zM151 171h1v1h-1zM152 170h1v1h-1zM153 169h1v1h-1zM154 168h1v1h-1zM157 166h1v1h-1zM158 165h1v1h-1zM159 164h1v1h-1zM160 162h1v2h-1zM161 161h1v1h-1zM162 160h1v1h-1zM163 159h1v1h-1zM164 157h1v2h-1zM165 156h1v1h-1zM210 146h1v1h-1zM213 144h1v1h-1zM214 143h1v1h-1zM217 141h1v1h-1zM223 139h1v2h-1zM224 137h1v2h-1zM225 135h1v2h-1zM226 134h1v1h-1zM227 132h1v2h-1zM228 131h1v1h-1zM229 129h1v2h-1zM230 128h1v1h-1zM231 127h1v1h-1zM232 125h1v2h-1zM233 124h1v1h-1zM234 123h1v1h-1zM235 122h1v1h-1zM236 120h1v2h-1zM237 119h1v1h-1zM238 118h1v1h-1zM241 116h1v1h-1zM242 115h1v1h-1zM243 114h1v1h-1zM244 112h1v2h-1zM245 111h1v1h-1zM263 105h1v2h-1zM264 107h1v1h-1zM265 108h1v2h-1zM266 110h1v2h-1zM267 112h1v2h-1zM268 114h1v2h-1zM269 116h1v2h-1zM270 118h1v1h-1zM271 119h1v2h-1zM272 121h1v2h-1zM273 123h1v2h-1zM274 125h1v1h-1zM275 126h1v2h-1zM276 128h1v1h-1zM277 129h1v2h-1zM278 131h1v2h-1zM279 133h1v2h-1zM280 135h1v2h-1zM281 137h1v2h-1zM282 139h1v2h-1zM283 141h1v2h-1zM284 143h1v2h-1zM285 145h1v2h-1zM286 147h1v2h-1zM287 149h1v2h-1zM288 151h1v2h-1zM289 153h1v2h-1zM290 155h1v3h-1zM291 158h1v3h-1zM292 161h1v2h-1zM293 163h1v3h-1zM294 166h1v3h-1zM295 169h1v2h-1zM296 171h1v2h-1zM297 173h1v2h-1zM298 175h1v3h-1zM299 178h1v2h-1zM300 180h1v2h-1zM301 182h1v2h-1zM302 184h1v2h-1zM303 186h1v2h-1zM304 188h1v3h-1zM305 191h1v2h-1zM306 193h1v3h-1zM307 196h1v2h-1zM308 198h1v2h-1zM309 200h1v2h-1zM310 202h1v3h-1zM311 205h1v2h-1zM312 207h1v2h-1zM313 209h1v2h-1zM314 211h1v2h-1zM315 213h1v2h-1zM316 215h1v2h-1zM317 217h1v2h-1zM327 223h1v2h-1zM328 225h1v1h-1zM329 226h1v2h-1zM330 228h1v1h-1zM331 229h1v1h-1zM332 230h1v2h-1zM333 232h1v1h-1zM334 233h1v2h-1zM335 235h1v2h-1zM336 237h1v2h-1zM337 239h1v2h-1zM338 241h1v2h-1zM339 243h1v2h-1zM340 245h1v2h-1zM341 247h1v2h-1zM342 249h1v3h-1zM343 252h1v2h-1zM344 254h1v3h-1zM345 257h1v2h-1zM346 259h1v3h-1zM347 262h1v2h-1zM348 264h1v2h-1zM349 266h1v2h-1zM350 268h1v2h-1zM351 270h1v2h-1zM352 272h1v1h-1zM353 273h1v2h-1zM354 275h1v2h-1zM355 277h1v2h-1zM356 279h1v2h-1zM357 281h1v2h-1zM358 283h1v2h-1zM359 285h1v2h-1zM360 287h1v2h-1zM361 289h1v2h-1zM362 291h1v1h-1zM363 292h1v2h-1zM364 294h1v2h-1zM365 296h1v2h-1zM366 298h1v1h-1zM367 299h1v2h-1zM368 301h1v1h-1zM369 302h1v2h-1zM370 304h1v1h-1zM373 306h1v1h-1zM374 307h1v1h-1zM375 308h1v1h-1zM376 309h1v2h-1zM377 311h1v1h-1zM378 312h1v1h-1zM379 313h1v1h-1zM380 314h1v1h-1zM381 315h1v1h-1zM398 318h1v1h-1zM399 317h1v1h-1zM400 315h1v2h-1zM401 314h1v1h-1zM402 312h1v2h-1zM403 310h1v2h-1zM404 308h1v2h-1zM405 306h1v2h-1zM406 305h1v1h-1zM407 304h1v1h-1zM408 303h1v1h-1zM409 302h1v1h-1zM410 301h1v1h-1zM411 299h1v2h-1zM412 298h1v1h-1zM413 296h1v2h-1zM414 294h1v2h-1zM415 292h1v2h-1zM416 290h1v2h-1zM417 288h1v2h-1zM418 287h1v1h-1zM419 285h1v2h-1zM420 283h1v2h-1zM421 281h1v2h-1zM422 280h1v1h-1zM423 279h1v1h-1zM424 278h1v1h-1zM425 277h1v1h-1zM441 277h1v1h-1zM446 280h1v1h-1zM447 281h1v1h-1zM448 282h1v2h-1zM449 284h1v1h-1zM450 285h1v1h-1zM451 286h1v1h-1zM452 287h1v1h-1zM453 288h1v1h-1zM454 289h1v1h-1zM455 290h1v2h-1zM456 292h1v1h-1zM457 293h1v2h-1zM458 295h1v1h-1zM459 296h1v1h-1zM460 297h1v1h-1zM461 298h1v1h-1zM462 299h1v1h-1zM465 301h1v1h-1zM466 302h1v1h-1zM467 303h1v1h-1zM468 304h1v1h-1zM469 305h1v1h-1zM486 306h1v1h-1zM487 305h1v1h-1zM488 303h1v2h-1zM489 302h1v1h-1zM490 301h1v1h-1zM491 299h1v2h-1zM492 297h1v2h-1zM493 295h1v2h-1zM494 294h1v1h-1zM495 292h1v2h-1zM496 291h1v1h-1zM497 289h1v2h-1zM498 288h1v1h-1zM499 286h1v2h-1zM500 285h1v1h-1zM501 283h1v2h-1zM502 281h1v2h-1zM503 278h1v3h-1zM504 276h1v2h-1zM505 273h1v3h-1zM506 270h1v3h-1zM507 268h1v2h-1zM508 266h1v2h-1zM509 264h1v2h-1zM510 262h1v2h-1zM511 260h1v2h-1zM512 259h1v1h-1zM513 257h1v2h-1zM514 256h1v1h-1zM515 255h1v1h-1zM516 254h1v1h-1zM517 253h1v1h-1zM518 252h1v1h-1zM521 250h1v1h-1zM551 244h1v1h-1zM552 243h1v1h-1zM553 242h1v1h-1zM554 241h1v1h-1zM555 240h1v1h-1zM556 238h1v2h-1zM557 237h1v1h-1zM567 233h1v1h-1zM568 231h1v2h-1zM569 230h1v1h-1zM582 225h1v1h-1zM583 226h1v1h-1zM584 227h1v1h-1zM585 228h1v1h-1zM586 229h1v1h-1zM587 230h1v1h-1zM588 231h1v1h-1zM589 232h1v1h-1zM590 233h1v1h-1zM591 234h1v2h-1zM592 236h1v2h-1zM593 238h1v2h-1zM594 240h1v2h-1zM595 242h1v2h-1zM596 244h1v2h-1zM597 246h1v2h-1zM598 248h1v3h-1zM599 251h1v2h-1zM600 253h1v3h-1zM601 256h1v2h-1zM602 258h1v3h-1zM603 261h1v2h-1zM604 263h1v3h-1zM605 266h1v2h-1zM606 268h1v3h-1zM607 271h1v3h-1zM608 274h1v4h-1zM609 278h1v3h-1zM610 281h1v4h-1zM611 285h1v4h-1zM612 289h1v4h-1zM613 293h1v4h-1zM614 297h1v4h-1zM615 301h1v4h-1zM616 305h1v4h-1zM617 309h1v4h-1zM618 313h1v5h-1zM619 318h1v4h-1zM620 322h1v4h-1zM621 326h1v4h-1zM622 330h1v5h-1zM623 335h1v5h-1zM624 340h1v4h-1zM625 344h1v5h-1zM626 349h1v4h-1zM627 353h1v3h-1zM628 356h1v2h-1zM629 358h1v3h-1zM630 361h1v3h-1zM631 364h1v3h-1zM632 367h1v3h-1zM633 370h1v3h-1zM634 373h1v3h-1zM635 376h1v2h-1zM636 378h1v3h-1zM637 381h1v2h-1zM638 383h1v3h-1zM639 386h1v2h-1zM640 388h1v3h-1zM641 391h1v2h-1zM642 393h1v2h-1zM643 395h1v2h-1zM644 397h1v2h-1zM645 399h1v2h-1zM646 401h1v2h-1zM647 403h1v2h-1zM648 405h1v3h-1zM649 408h1v2h-1zM650 410h1v2h-1zM651 412h1v2h-1zM652 414h1v1h-1zM653 415h1v2h-1zM654 417h1v1h-1zM655 418h1v2h-1zM656 420h1v1h-1zM657 421h1v2h-1zM658 423h1v1h-1zM659 424h1v1h-1zM660 425h1v2h-1zM661 427h1v1h-1zM683 431h1v1h-1zM684 432h1v1h-1zM685 433h1v1h-1zM693 436h1v1h-1zM699 438h1v1h-1zM700 439h1v1h-1zM701 440h1v1h-1zM707 443h1v1h-1zM708 444h1v1h-1zM709 445h1v1h-1zM710 446h1v1h-1zM711 447h1v1h-1zM712 448h1v1h-1zM713 449h1v1h-1zM726 448h1v1h-1zM727 447h1v1h-1zM728 446h1v1h-1zM729 445h1v1h-1zM730 444h1v1h-1zM731 442h1v2h-1zM732 441h1v1h-1zM733 439h1v2h-1zM734 437h1v2h-1zM735 435h1v2h-1zM736 433h1v2h-1zM737 431h1v2h-1zM738 430h1v1h-1zM739 428h1v2h-1zM740 426h1v2h-1zM741 424h1v2h-1zM742 423h1v1h-1zM743 422h1v1h-1zM744 421h1v1h-1zM745 420h1v1h-1zM746 419h1v1h-1zM747 417h1v2h-1zM748 415h1v2h-1zM749 413h1v2h-1zM750 411h1v2h-1zM751 409h1v2h-1zM752 407h1v2h-1zM753 405h1v2h-1zM754 402h1v3h-1zM755 400h1v2h-1zM756 397h1v3h-1zM757 395h1v2h-1zM758 392h1v3h-1zM759 390h1v2h-1zM760 388h1v2h-1zM761 386h1v2h-1zM762 384h1v2h-1zM763 382h1v2h-1zM764 380h1v2h-1zM765 378h1v2h-1zM766 375h1v3h-1zM767 373h1v2h-1zM768 371h1v2h-1zM769 369h1v2h-1zM778 368h1v1h-1zM781 370h1v1h-1zM782 371h1v1h-1zM783 372h1v2h-1zM784 374h1v1h-1zM785 375h1v2h-1zM786 377h1v1h-1zM789 379h1v1h-1zM790 380h1v2h-1zM791 382h1v2h-1zM792 384h1v2h-1zM793 386h1v2h-1zM794 388h1v1h-1zM795 389h1v2h-1zM796 391h1v2h-1zM797 393h1v2h-1zM798 395h1v1h-1zM799 396h1v2h-1zM800 398h1v1h-1zM801 399h1v2h-1zM802 401h1v1h-1zM803 402h1v2h-1zM804 404h1v2h-1zM805 406h1v2h-1zM806 408h1v2h-1zM807 410h1v2h-1zM808 412h1v2h-1zM809 414h1v2h-1zM810 416h1v3h-1zM811 419h1v3h-1zM812 422h1v2h-1zM813 424h1v3h-1zM814 427h1v3h-1zM815 430h1v3h-1zM816 433h1v2h-1zM817 435h1v3h-1zM818 438h1v2h-1zM819 440h1v2h-1zM820 442h1v1h-1zM821 443h1v2h-1zM822 445h1v1h-1zM823 446h1v1h-1zM824 447h1v2h-1zM825 449h1v1h-1zM837 455h1v1h-1zM846 460h1v1h-1zM847 459h1v1h-1zM848 458h1v1h-1zM849 457h1v1h-1zM850 456h1v1h-1zM853 454h1v1h-1zM866 452h1v1h-1zM867 450h1v2h-1zM868 448h1v2h-1zM869 446h1v2h-1zM870 444h1v2h-1zM871 442h1v2h-1zM872 439h1v3h-1zM873 437h1v2h-1zM874 435h1v2h-1zM875 433h1v2h-1zM876 432h1v1h-1zM877 430h1v2h-1zM878 429h1v1h-1zM879 427h1v2h-1zM880 426h1v1h-1zM881 424h1v2h-1zM882 423h1v1h-1zM883 421h1v2h-1zM884 420h1v1h-1zM885 418h1v2h-1zM886 417h1v1h-1zM887 415h1v2h-1zM888 414h1v1h-1zM889 412h1v2h-1zM890 411h1v1h-1zM891 409h1v2h-1zM892 408h1v1h-1zM893 406h1v2h-1zM894 405h1v1h-1zM895 403h1v2h-1zM896 402h1v1h-1zM897 400h1v2h-1zM898 399h1v1h-1zM901 397h1v1h-1zM902 396h1v1h-1zM905 394h1v1h-1zM906 393h1v1h-1zM909 391h1v1h-1zM910 390h1v1h-1zM911 388h1v2h-1zM912 386h1v2h-1zM913 384h1v2h-1zM914 382h1v2h-1zM915 380h1v2h-1zM916 378h1v2h-1zM917 376h1v2h-1zM918 374h1v2h-1zM919 372h1v2h-1zM920 369h1v3h-1zM921 367h1v2h-1zM922 365h1v2h-1zM923 364h1v1h-1zM924 362h1v2h-1zM925 361h1v1h-1zM926 360h1v1h-1zM927 359h1v1h-1zM928 358h1v1h-1zM929 357h1v1h-1zM963 346h1v2h-1zM964 348h1v1h-1zM965 349h1v2h-1zM966 351h1v1h-1zM969 353h1v1h-1zM970 354h1v1h-1zM971 355h1v1h-1zM972 356h1v2h-1zM973 358h1v1h-1zM974 359h1v1h-1zM975 360h1v2h-1zM976 362h1v1h-1zM977 363h1v2h-1zM978 365h1v1h-1zM979 366h1v1h-1zM980 367h1v2h-1zM981 369h1v1h-1zM982 370h1v1h-1zM983 371h1v2h-1zM984 373h1v1h-1zM985 374h1v2h-1zM986 376h1v1h-1zM987 377h1v2h-1zM988 379h1v1h-1zM989 380h1v2h-1zM990 382h1v1h-1zM991 383h1v2h-1zM992 385h1v2h-1zM993 387h1v2h-1zM994 389h1v1h-1zM995 390h1v2h-1zM996 392h1v1h-1zM997 393h1v2h-1zM998 395h1v1h-1zM999 396h1v2h-1zM1000 398h1v1h-1zM1001 399h1v2h-1zM1002 401h1v1h-1zM1003 402h1v1h-1zM1004 403h1v1h-1zM1005 404h1v1h-1zM1006 405h1v1h-1zM1007 406h1v1h-1zM1008 407h1v1h-1zM1009 408h1v1h-1zM1010 409h1v1h-1zM1011 410h1v1h-1zM1012 411h1v2h-1zM1013 413h1v1h-1zM1014 414h1v1h-1zM1015 415h1v1h-1zM1016 416h1v1h-1zM1017 417h1v1h-1zM1033 416h1v1h-1zM1045 412h1v1h-1zM1046 411h1v1h-1zM1049 409h1v1h-1zM1055 406h1v1h-1zM1056 404h1v2h-1zM1057 403h1v1h-1zM1058 402h1v1h-1zM1059 400h1v2h-1zM1060 398h1v2h-1zM1061 396h1v2h-1zM1062 395h1v1h-1zM1063 393h1v2h-1zM1064 392h1v1h-1zM1065 390h1v2h-1zM1066 389h1v1h-1zM1067 387h1v2h-1zM1068 385h1v2h-1zM1069 383h1v2h-1zM1070 381h1v2h-1zM1071 379h1v2h-1zM1072 377h1v2h-1zM1073 375h1v2h-1zM1074 374h1v1h-1zM1075 372h1v2h-1zM1076 371h1v1h-1zM1077 369h1v2h-1zM1078 368h1v1h-1zM1081 366h1v1h-1zM1086 363h1v1h-1zM1087 362h1v1h-1zM1088 361h1v1h-1zM1089 360h1v1h-1zM1090 359h1v1h-1zM1091 358h1v1h-1zM1092 357h1v1h-1zM1093 356h1v1h-1zM1094 355h1v1h-1zM1095 354h1v1h-1zM1096 352h1v2h-1zM1097 351h1v1h-1zM1098 350h1v1h-1zM1099 348h1v2h-1zM1100 347h1v1h-1zM1101 345h1v2h-1zM1102 344h1v1h-1zM1103 342h1v2h-1zM1104 341h1v1h-1zM1105 339h1v2h-1zM1106 337h1v2h-1zM1107 335h1v2h-1zM1108 333h1v2h-1zM1109 331h1v2h-1zM1110 329h1v2h-1zM1111 327h1v2h-1zM1112 325h1v2h-1zM1113 323h1v2h-1zM1114 322h1v1h-1zM1115 321h1v1h-1zM1116 319h1v2h-1zM1117 318h1v1h-1zM1118 316h1v2h-1zM1119 314h1v2h-1zM1120 312h1v2h-1zM1121 310h1v2h-1zM1122 308h1v2h-1zM1123 306h1v2h-1zM1124 303h1v3h-1zM1125 301h1v2h-1zM1126 298h1v3h-1zM1127 296h1v2h-1zM1128 294h1v2h-1zM1129 292h1v2h-1zM1130 290h1v2h-1zM1131 288h1v2h-1zM1132 286h1v2h-1zM1133 284h1v2h-1zM1134 282h1v2h-1zM1135 280h1v2h-1zM1136 279h1v1h-1zM1137 277h1v2h-1zM1138 276h1v1h-1zM1139 275h1v1h-1zM1140 273h1v2h-1zM1141 272h1v1h-1zM1150 272h1v1h-1zM1151 273h1v1h-1zM1152 274h1v1h-1zM1153 275h1v1h-1zM1154 276h1v1h-1zM1155 277h1v1h-1zM1156 278h1v1h-1zM1157 279h1v1h-1zM1166 283h1v1h-1zM1167 284h1v1h-1zM1168 285h1v2h-1zM1169 287h1v1h-1zM1170 288h1v1h-1zM1171 289h1v1h-1zM1172 290h1v2h-1zM1173 292h1v1h-1zM1174 293h1v1h-1zM1175 294h1v2h-1zM1176 296h1v1h-1zM1177 297h1v2h-1zM1178 299h1v2h-1zM1179 301h1v2h-1zM1180 303h1v2h-1zM1181 305h1v2h-1zM1182 307h1v2h-1zM1183 309h1v2h-1zM1184 311h1v2h-1zM1185 313h1v2h-1zM1186 315h1v3h-1zM1187 318h1v2h-1zM1188 320h1v2h-1zM1189 322h1v2h-1zM1190 324h1v1h-1zM1191 325h1v1h-1zM1192 326h1v2h-1zM1193 328h1v1h-1zM1194 329h1v1h-1zM1195 330h1v2h-1zM1196 332h1v2h-1zM1197 334h1v2h-1zM1198 336h1v1h-1zM1199 337h1v2h-1zM1200 339h1v1h-1zM1201 340h1v2h-1zM1214 347h1v2h-1zM1215 349h1v2h-1zM1216 351h1v2h-1zM1217 353h1v2h-1zM1218 355h1v3h-1zM1219 358h1v2h-1zM1220 360h1v3h-1zM1221 363h1v2h-1zM1222 365h1v3h-1zM1223 368h1v2h-1zM1224 370h1v3h-1zM1225 373h1v2h-1zM1226 375h1v3h-1zM1227 378h1v3h-1zM1228 381h1v3h-1zM1229 384h1v3h-1zM1230 387h1v3h-1zM1231 390h1v3h-1zM1232 393h1v4h-1zM1233 397h1v3h-1zM1234 400h1v3h-1zM1235 403h1v3h-1zM1236 406h1v4h-1zM1237 410h1v3h-1zM1238 413h1v3h-1zM1239 416h1v3h-1zM1240 419h1v3h-1zM1241 422h1v3h-1zM1242 425h1v3h-1zM1243 428h1v2h-1zM1244 430h1v2h-1zM1245 432h1v2h-1zM1246 434h1v2h-1zM1247 436h1v2h-1zM1248 438h1v2h-1zM1249 440h1v2h-1zM1250 442h1v2h-1zM1251 444h1v2h-1zM1252 446h1v2h-1zM1253 448h1v2h-1zM1254 450h1v2h-1zM1255 452h1v2h-1zM1256 454h1v3h-1zM1257 457h1v2h-1zM1258 459h1v3h-1zM1259 462h1v2h-1zM1260 464h1v3h-1zM1261 467h1v2h-1zM1262 469h1v3h-1zM1263 472h1v2h-1zM1264 474h1v3h-1zM1265 477h1v2h-1zM1266 479h1v2h-1zM1267 481h1v2h-1zM1268 483h1v1h-1zM1269 484h1v2h-1zM1298 490h1v1h-1zM1299 491h1v2h-1zM1300 493h1v1h-1zM1301 494h1v2h-1zM1302 496h1v2h-1zM1303 498h1v2h-1zM1304 500h1v2h-1zM1305 502h1v2h-1zM1306 504h1v1h-1z" fill="#ff0000"/>
<path d="M22 161h2v1h-2zM26 158h3v1h-3zM29 157h2v1h-2zM50 112h2v1h-2zM54 116h3v1h-3zM57 117h4v1h-4zM61 118h2v1h-2zM66 112h3v1h-3zM69 111h2v1h-2zM74 103h3v1h-3zM110 197h2v1h-2zM112 198h3v1h-3zM135 163h2v1h-2zM138 161h2v1h-2zM140 160h2v1h-2zM147 153h2v1h-2zM150 151h3v1h-3zM153 150h2v1h-2zM155 151h2v1h-2zM158 153h2v1h-2zM160 152h2v1h-2zM166 142h2v1h-2zM170 148h2v1h-2zM172 149h2v1h-2zM175 149h2v1h-2zM179 148h2v1h-2zM186 154h2v1h-2zM188 155h3v1h-3zM194 148h2v1h-2zM196 147h2v1h-2zM198 146h3v1h-3zM201 145h2v1h-2zM203 146h2v1h-2zM205 147h2v1h-2zM210 136h5v1h-5zM235 90h2v1h-2zM282 205h2v1h-2zM284 204h2v1h-2zM310 229h3v1h-3zM313 230h2v1h-2zM319 238h2v1h-2zM322 240h3v1h-3zM325 239h2v1h-2zM363 339h2v1h-2zM371 327h2v1h-2zM383 307h2v1h-2zM386 305h7v1h-7zM393 306h2v1h-2zM427 249h2v1h-2zM457 352h2v1h-2zM494 237h3v1h-3zM506 237h2v1h-2zM508 236h3v1h-3zM514 244h3v1h-3zM518 242h3v1h-3zM521 241h2v1h-2zM530 270h3v1h-3zM559 208h2v1h-2zM562 206h3v1h-3zM565 205h2v1h-2zM626 429h10v1h-10zM636 428h2v1h-2zM638 427h2v1h-2zM640 428h3v1h-3zM645 422h2v1h-2zM650 433h3v1h-3zM653 434h3v1h-3zM656 435h2v1h-2zM670 428h2v1h-2zM672 427h2v1h-2zM675 427h2v1h-2zM683 437h2v1h-2zM686 439h5v1h-5zM695 447h2v1h-2zM699 450h2v1h-2zM714 473h2v1h-2zM716 472h2v1h-2zM746 358h2v1h-2zM748 357h2v1h-2zM754 349h3v1h-3zM757 348h10v1h-10zM795 439h2v1h-2zM798 441h6v1h-6zM804 442h2v1h-2zM818 470h2v1h-2zM820 471h2v1h-2zM822 472h2v1h-2zM824 471h2v1h-2zM842 457h5v1h-5zM863 430h2v1h-2zM887 365h2v1h-2zM907 384h2v1h-2zM934 323h3v1h-3zM937 322h2v1h-2zM978 401h3v1h-3zM981 402h2v1h-2zM1006 426h2v1h-2zM1008 427h2v1h-2zM1014 432h2v1h-2zM1016 433h2v1h-2zM1018 434h2v1h-2zM1020 435h2v1h-2zM1046 378h2v1h-2zM1048 379h2v1h-2zM1074 343h2v1h-2zM1076 342h2v1h-2zM1082 348h3v1h-3zM1085 347h2v1h-2zM1090 341h5v1h-5zM1131 234h2v1h-2zM1178 320h2v1h-2zM1180 321h2v1h-2zM1242 494h2v1h-2zM1244 495h2v1h-2zM1254 482h2v1h-2zM1256 483h2v1h-2zM1259 485h2v1h-2zM1270 499h3v1h-3zM1273 498h2v1h-2zM1286 478h3v1h-3zM1289 479h2v1h-2zM6 69h1v3h-1zM7 72h1v6h-1zM8 78h1v5h-1zM9 83h1v6h-1zM10 89h1v6h-1zM11 95h1v7h-1zM12 102h1v7h-1zM13 109h1v7h-1zM14 116h1v7h-1zM15 123h1v7h-1zM16 130h1v6h-1zM17 136h1v7h-1zM18 143h1v6h-1zM19 149h1v4h-1zM20 153h1v4h-1zM21 157h1v4h-1zM22 162h1v1h-1zM24 160h1v1h-1zM25 159h1v1h-1zM31 155h1v2h-1zM32 154h1v1h-1zM33 152h1v2h-1zM34 150h1v2h-1zM35 147h1v3h-1zM36 143h1v4h-1zM37 140h1v3h-1zM38 137h1v3h-1zM39 135h1v2h-1zM40 133h1v2h-1zM41 131h1v2h-1zM42 129h1v2h-1zM43 128h1v1h-1zM44 126h1v2h-1zM45 125h1v1h-1zM46 123h1v2h-1zM47 120h1v3h-1zM48 116h1v4h-1zM49 113h1v3h-1zM50 111h1v1h-1zM52 113h1v2h-1zM53 115h1v1h-1zM63 116h1v2h-1zM64 115h1v1h-1zM65 113h1v2h-1zM70 110h1v1h-1zM71 108h1v2h-1zM72 106h1v2h-1zM73 104h1v2h-1zM74 102h1v1h-1zM77 104h1v1h-1zM78 105h1v1h-1zM79 106h1v2h-1zM80 108h1v2h-1zM81 110h1v2h-1zM82 112h1v3h-1zM83 115h1v4h-1zM84 119h1v5h-1zM85 124h1v4h-1zM86 128h1v5h-1zM87 133h1v4h-1zM88 137h1v4h-1zM89 141h1v4h-1zM90 145h1v4h-1zM91 149h1v3h-1zM92 152h1v3h-1zM93 155h1v3h-1zM94 158h1v4h-1zM95 162h1v4h-1zM96 166h1v4h-1zM97 170h1v4h-1zM98 174h1v3h-1zM99 177h1v3h-1zM100 180h1v2h-1zM101 182h1v3h-1zM102 185h1v2h-1zM103 187h1v1h-1zM104 188h1v2h-1zM105 190h1v1h-1zM106 191h1v1h-1zM107 192h1v2h-1zM108 194h1v1h-1zM109 195h1v2h-1zM114 199h1v1h-1zM115 196h1v2h-1zM116 193h1v3h-1zM117 191h1v2h-1zM118 188h1v3h-1zM119 186h1v2h-1zM120 184h1v2h-1zM121 182h1v2h-1zM122 180h1v2h-1zM123 179h1v1h-1zM124 178h1v1h-1zM125 177h1v1h-1zM126 176h1v1h-1zM127 174h1v2h-1zM128 172h1v2h-1zM129 170h1v2h-1zM130 169h1v1h-1zM131 168h1v1h-1zM132 166h1v2h-1zM133 165h1v1h-1zM134 164h1v1h-1zM137 162h1v1h-1zM142 159h1v1h-1zM143 158h1v1h-1zM144 156h1v2h-1zM145 155h1v1h-1zM146 154h1v1h-1zM149 152h1v1h-1zM157 152h1v1h-1zM162 150h1v2h-1zM163 148h1v2h-1zM164 145h1v3h-1zM165 143h1v2h-1zM166 141h1v1h-1zM167 143h1v1h-1zM168 144h1v2h-1zM169 146h1v2h-1zM174 150h1v1h-1zM177 148h1v1h-1zM178 147h1v1h-1zM181 149h1v1h-1zM182 150h1v1h-1zM183 151h1v1h-1zM184 152h1v1h-1zM185 153h1v1h-1zM190 156h1v1h-1zM191 153h1v2h-1zM192 151h1v2h-1zM193 149h1v2h-1zM206 148h1v1h-1zM207 144h1v3h-1zM208 141h1v3h-1zM209 138h1v3h-1zM210 137h1v1h-1zM214 135h1v1h-1zM215 133h1v2h-1zM216 131h1v2h-1zM217 129h1v2h-1zM218 128h1v1h-1zM219 126h1v2h-1zM220 125h1v1h-1zM221 123h1v2h-1zM222 121h1v2h-1zM223 118h1v3h-1zM224 114h1v4h-1zM225 111h1v3h-1zM226 108h1v3h-1zM227 106h1v2h-1zM228 104h1v2h-1zM229 102h1v2h-1zM230 99h1v3h-1zM231 97h1v2h-1zM232 95h1v2h-1zM233 93h1v2h-1zM234 91h1v2h-1zM237 89h1v1h-1zM238 88h1v1h-1zM239 87h1v1h-1zM240 85h1v2h-1zM241 84h1v1h-1zM242 83h1v1h-1zM243 84h1v1h-1zM244 85h1v2h-1zM245 87h1v1h-1zM246 88h1v1h-1zM247 89h1v1h-1zM248 90h1v1h-1zM249 91h1v1h-1zM250 92h1v1h-1zM251 93h1v2h-1zM252 95h1v1h-1zM253 96h1v2h-1zM254 98h1v1h-1zM255 99h1v2h-1zM256 101h1v1h-1zM257 102h1v2h-1zM258 104h1v2h-1zM259 106h1v3h-1zM260 109h1v4h-1zM261 113h1v3h-1zM262 116h1v4h-1zM263 120h1v5h-1zM264 125h1v6h-1zM265 131h1v5h-1zM266 136h1v6h-1zM267 142h1v6h-1zM268 148h1v6h-1zM269 154h1v6h-1zM270 160h1v5h-1zM271 165h1v5h-1zM272 170h1v4h-1zM273 174h1v5h-1zM274 179h1v5h-1zM275 184h1v4h-1zM276 188h1v4h-1zM277 192h1v4h-1zM278 196h1v3h-1zM279 199h1v2h-1zM280 201h1v2h-1zM281 203h1v2h-1zM286 203h1v1h-1zM287 202h1v1h-1zM288 200h1v2h-1zM289 199h1v1h-1zM290 198h1v1h-1zM291 199h1v2h-1zM292 201h1v2h-1zM293 203h1v2h-1zM294 205h1v1h-1zM295 206h1v1h-1zM296 207h1v1h-1zM297 208h1v1h-1zM298 209h1v1h-1zM299 210h1v2h-1zM300 212h1v1h-1zM301 213h1v2h-1zM302 215h1v2h-1zM303 217h1v2h-1zM304 219h1v2h-1zM305 221h1v2h-1zM306 223h1v1h-1zM307 224h1v2h-1zM308 226h1v1h-1zM309 227h1v2h-1zM315 231h1v2h-1zM316 233h1v2h-1zM317 235h1v2h-1zM318 237h1v1h-1zM321 239h1v1h-1zM326 240h1v1h-1zM327 241h1v2h-1zM328 243h1v3h-1zM329 246h1v2h-1zM330 248h1v3h-1zM331 251h1v2h-1zM332 253h1v3h-1zM333 256h1v2h-1zM334 258h1v3h-1zM335 261h1v2h-1zM336 263h1v2h-1zM337 265h1v2h-1zM338 267h1v3h-1zM339 270h1v4h-1zM340 274h1v4h-1zM341 278h1v4h-1zM342 282h1v5h-1zM343 287h1v6h-1zM344 293h1v5h-1zM345 298h1v6h-1zM346 304h1v4h-1zM347 308h1v4h-1zM348 312h1v3h-1zM349 315h1v4h-1zM350 319h1v2h-1zM351 321h1v2h-1zM352 323h1v1h-1zM353 324h1v2h-1zM354 326h1v2h-1zM355 328h1v2h-1zM356 330h1v2h-1zM357 332h1v2h-1zM358 334h1v2h-1zM359 336h1v1h-1zM360 337h1v2h-1zM361 339h1v1h-1zM362 340h1v1h-1zM365 338h1v1h-1zM366 336h1v2h-1zM367 334h1v2h-1zM368 332h1v2h-1zM369 330h1v2h-1zM370 328h1v2h-1zM373 326h1v1h-1zM374 324h1v2h-1zM375 322h1v2h-1zM376 320h1v2h-1zM377 318h1v2h-1zM378 316h1v2h-1zM379 314h1v2h-1zM380 312h1v2h-1zM381 310h1v2h-1zM382 308h1v2h-1zM385 306h1v1h-1zM395 305h1v1h-1zM396 304h1v1h-1zM397 303h1v1h-1zM398 302h1v1h-1zM399 301h1v1h-1zM400 299h1v2h-1zM401 298h1v1h-1zM402 296h1v2h-1zM403 293h1v3h-1zM404 289h1v4h-1zM405 286h1v3h-1zM406 283h1v3h-1zM407 280h1v3h-1zM408 278h1v2h-1zM409 275h1v3h-1zM410 272h1v3h-1zM411 270h1v2h-1zM412 267h1v3h-1zM413 265h1v2h-1zM414 262h1v3h-1zM415 259h1v3h-1zM416 257h1v2h-1zM417 254h1v3h-1zM418 251h1v3h-1zM419 249h1v2h-1zM420 247h1v2h-1zM421 245h1v2h-1zM422 244h1v1h-1zM423 245h1v1h-1zM424 246h1v1h-1zM425 247h1v1h-1zM426 248h1v1h-1zM429 250h1v1h-1zM430 251h1v1h-1zM431 252h1v2h-1zM432 254h1v2h-1zM433 256h1v2h-1zM434 258h1v3h-1zM435 261h1v4h-1zM436 265h1v4h-1zM437 269h1v4h-1zM438 273h1v6h-1zM439 279h1v6h-1zM440 285h1v6h-1zM441 291h1v6h-1zM442 297h1v5h-1zM443 302h1v4h-1zM444 306h1v4h-1zM445 310h1v4h-1zM446 314h1v5h-1zM447 319h1v4h-1zM448 323h1v4h-1zM449 327h1v4h-1zM450 331h1v4h-1zM451 335h1v3h-1zM452 338h1v4h-1zM453 342h1v3h-1zM454 345h1v2h-1zM455 347h1v2h-1zM456 349h1v2h-1zM457 351h1v1h-1zM458 353h1v1h-1zM459 350h1v2h-1zM460 348h1v2h-1zM461 346h1v2h-1zM462 343h1v3h-1zM463 340h1v3h-1zM464 338h1v2h-1zM465 335h1v3h-1zM466 332h1v3h-1zM467 329h1v3h-1zM468 326h1v3h-1zM469 323h1v3h-1zM470 319h1v4h-1zM471 315h1v4h-1zM472 311h1v4h-1zM473 307h1v4h-1zM474 302h1v5h-1zM475 298h1v4h-1zM476 293h1v5h-1zM477 289h1v4h-1zM478 285h1v4h-1zM479 282h1v3h-1zM480 279h1v3h-1zM481 276h1v3h-1zM482 273h1v3h-1zM483 270h1v3h-1zM484 266h1v4h-1zM485 263h1v3h-1zM486 260h1v3h-1zM487 256h1v4h-1zM488 252h1v4h-1zM489 248h1v4h-1zM490 245h1v3h-1zM491 243h1v2h-1zM492 240h1v3h-1zM493 238h1v2h-1zM494 236h1v1h-1zM497 238h1v1h-1zM498 239h1v1h-1zM499 240h1v1h-1zM500 241h1v1h-1zM501 242h1v1h-1zM502 243h1v1h-1zM503 241h1v2h-1zM504 240h1v1h-1zM505 238h1v2h-1zM510 235h1v1h-1zM511 237h1v2h-1zM512 239h1v3h-1zM513 242h1v2h-1zM514 245h1v1h-1zM517 243h1v1h-1zM522 242h1v2h-1zM523 244h1v5h-1zM524 249h1v4h-1zM525 253h1v5h-1zM526 258h1v4h-1zM527 262h1v3h-1zM528 265h1v2h-1zM529 267h1v3h-1zM530 271h1v1h-1zM533 269h1v1h-1zM534 268h1v1h-1zM535 267h1v1h-1zM536 265h1v2h-1zM537 264h1v1h-1zM538 262h1v2h-1zM539 260h1v2h-1zM540 257h1v3h-1zM541 255h1v2h-1zM542 251h1v4h-1zM543 246h1v5h-1zM544 241h1v5h-1zM545 236h1v5h-1zM546 232h1v4h-1zM547 230h1v2h-1zM548 227h1v3h-1zM549 225h1v2h-1zM550 223h1v2h-1zM551 221h1v2h-1zM552 219h1v2h-1zM553 217h1v2h-1zM554 216h1v1h-1zM555 214h1v2h-1zM556 212h1v2h-1zM557 210h1v2h-1zM558 209h1v1h-1zM561 207h1v1h-1zM567 204h1v1h-1zM568 202h1v2h-1zM569 201h1v1h-1zM570 200h1v1h-1zM571 201h1v1h-1zM572 202h1v1h-1zM573 203h1v1h-1zM574 204h1v2h-1zM575 206h1v3h-1zM576 209h1v3h-1zM577 212h1v3h-1zM578 215h1v4h-1zM579 219h1v4h-1zM580 223h1v4h-1zM581 227h1v4h-1zM582 231h1v5h-1zM583 236h1v6h-1zM584 242h1v6h-1zM585 248h1v6h-1zM586 254h1v6h-1zM587 260h1v6h-1zM588 266h1v6h-1zM589 272h1v6h-1zM590 278h1v5h-1zM591 283h1v4h-1zM592 287h1v4h-1zM593 291h1v4h-1zM594 295h1v5h-1zM595 300h1v5h-1zM596 305h1v4h-1zM597 309h1v5h-1zM598 314h1v4h-1zM599 318h1v3h-1zM600 321h1v2h-1zM601 323h1v3h-1zM602 326h1v3h-1zM603 329h1v2h-1zM604 331h1v2h-1zM605 333h1v2h-1zM606 335h1v3h-1zM607 338h1v4h-1zM608 342h1v5h-1zM609 347h1v4h-1zM610 351h1v5h-1zM611 356h1v5h-1zM612 361h1v5h-1zM613 366h1v5h-1zM614 371h1v5h-1zM615 376h1v4h-1zM616 380h1v4h-1zM617 384h1v4h-1zM618 388h1v4h-1zM619 392h1v6h-1zM620 398h1v5h-1zM621 403h1v6h-1zM622 409h1v5h-1zM623 414h1v4h-1zM624 418h1v5h-1zM625 423h1v4h-1zM626 427h1v2h-1zM642 429h1v1h-1zM643 426h1v2h-1zM644 424h1v2h-1zM645 423h1v1h-1zM646 421h1v1h-1zM647 423h1v3h-1zM648 426h1v3h-1zM649 429h1v3h-1zM650 432h1v1h-1zM658 436h1v1h-1zM659 435h1v1h-1zM660 433h1v2h-1zM661 432h1v1h-1zM662 431h1v1h-1zM663 432h1v1h-1zM664 433h1v1h-1zM665 434h1v1h-1zM666 435h1v1h-1zM667 433h1v2h-1zM668 431h1v2h-1zM669 429h1v2h-1zM674 426h1v1h-1zM677 428h1v1h-1zM678 429h1v1h-1zM679 430h1v2h-1zM680 432h1v2h-1zM681 434h1v2h-1zM682 436h1v1h-1zM685 438h1v1h-1zM691 440h1v2h-1zM692 442h1v2h-1zM693 444h1v2h-1zM694 446h1v1h-1zM697 448h1v1h-1zM698 449h1v1h-1zM701 451h1v1h-1zM702 452h1v1h-1zM703 453h1v1h-1zM704 454h1v2h-1zM705 456h1v1h-1zM706 457h1v2h-1zM707 459h1v2h-1zM708 461h1v2h-1zM709 463h1v2h-1zM710 465h1v2h-1zM711 467h1v2h-1zM712 469h1v2h-1zM713 471h1v2h-1zM718 470h1v2h-1zM719 467h1v3h-1zM720 465h1v2h-1zM721 462h1v3h-1zM722 458h1v4h-1zM723 454h1v4h-1zM724 450h1v4h-1zM725 446h1v4h-1zM726 441h1v5h-1zM727 435h1v6h-1zM728 429h1v6h-1zM729 423h1v6h-1zM730 418h1v5h-1zM731 412h1v6h-1zM732 406h1v6h-1zM733 400h1v6h-1zM734 395h1v5h-1zM735 390h1v5h-1zM736 385h1v5h-1zM737 380h1v5h-1zM738 376h1v4h-1zM739 373h1v3h-1zM740 369h1v4h-1zM741 366h1v3h-1zM742 364h1v2h-1zM743 362h1v2h-1zM744 361h1v1h-1zM745 359h1v2h-1zM750 356h1v1h-1zM751 354h1v2h-1zM752 352h1v2h-1zM753 350h1v2h-1zM767 349h1v1h-1zM768 350h1v1h-1zM769 351h1v1h-1zM770 352h1v3h-1zM771 355h1v4h-1zM772 359h1v4h-1zM773 363h1v4h-1zM774 367h1v4h-1zM775 371h1v5h-1zM776 376h1v5h-1zM777 381h1v5h-1zM778 386h1v5h-1zM779 391h1v4h-1zM780 395h1v5h-1zM781 400h1v4h-1zM782 404h1v4h-1zM783 408h1v4h-1zM784 412h1v4h-1zM785 416h1v4h-1zM786 420h1v3h-1zM787 423h1v2h-1zM788 425h1v2h-1zM789 427h1v2h-1zM790 429h1v3h-1zM791 432h1v2h-1zM792 434h1v2h-1zM793 436h1v2h-1zM794 438h1v1h-1zM797 440h1v1h-1zM806 443h1v2h-1zM807 445h1v2h-1zM808 447h1v2h-1zM809 449h1v2h-1zM810 451h1v3h-1zM811 454h1v2h-1zM812 456h1v2h-1zM813 458h1v2h-1zM814 460h1v2h-1zM815 462h1v2h-1zM816 464h1v3h-1zM817 467h1v2h-1zM818 469h1v1h-1zM826 470h1v1h-1zM827 469h1v1h-1zM828 468h1v1h-1zM829 467h1v1h-1zM830 465h1v2h-1zM831 463h1v2h-1zM832 461h1v2h-1zM833 459h1v2h-1zM834 458h1v1h-1zM835 457h1v1h-1zM836 455h1v2h-1zM837 454h1v1h-1zM838 453h1v1h-1zM839 454h1v1h-1zM840 455h1v1h-1zM841 456h1v1h-1zM847 455h1v2h-1zM848 454h1v1h-1zM849 452h1v2h-1zM850 450h1v2h-1zM851 448h1v2h-1zM852 446h1v2h-1zM853 444h1v2h-1zM854 441h1v3h-1zM855 439h1v2h-1zM856 437h1v2h-1zM857 435h1v2h-1zM858 434h1v1h-1zM859 433h1v1h-1zM860 431h1v2h-1zM861 430h1v1h-1zM862 429h1v1h-1zM865 431h1v1h-1zM866 432h1v1h-1zM867 431h1v1h-1zM868 430h1v1h-1zM869 429h1v1h-1zM870 427h1v2h-1zM871 425h1v2h-1zM872 423h1v2h-1zM873 421h1v2h-1zM874 419h1v2h-1zM875 415h1v4h-1zM876 411h1v4h-1zM877 407h1v4h-1zM878 403h1v4h-1zM879 398h1v5h-1zM880 394h1v4h-1zM881 389h1v5h-1zM882 384h1v5h-1zM883 379h1v5h-1zM884 374h1v5h-1zM885 369h1v5h-1zM886 366h1v3h-1zM889 364h1v1h-1zM890 363h1v1h-1zM891 364h1v1h-1zM892 365h1v2h-1zM893 367h1v1h-1zM894 368h1v1h-1zM895 369h1v1h-1zM896 370h1v1h-1zM897 371h1v1h-1zM898 372h1v2h-1zM899 374h1v2h-1zM900 376h1v2h-1zM901 378h1v2h-1zM902 380h1v1h-1zM903 381h1v1h-1zM904 382h1v2h-1zM905 384h1v1h-1zM906 385h1v1h-1zM909 383h1v1h-1zM910 381h1v2h-1zM911 379h1v2h-1zM912 376h1v3h-1zM913 374h1v2h-1zM914 371h1v3h-1zM915 369h1v2h-1zM916 366h1v3h-1zM917 364h1v2h-1zM918 360h1v4h-1zM919 356h1v4h-1zM920 352h1v4h-1zM921 348h1v4h-1zM922 344h1v4h-1zM923 341h1v3h-1zM924 338h1v3h-1zM925 335h1v3h-1zM926 333h1v2h-1zM927 331h1v2h-1zM928 330h1v1h-1zM929 328h1v2h-1zM930 327h1v1h-1zM931 326h1v1h-1zM932 325h1v1h-1zM933 324h1v1h-1zM939 323h1v1h-1zM940 324h1v2h-1zM941 326h1v1h-1zM942 327h1v2h-1zM943 329h1v2h-1zM944 331h1v2h-1zM945 333h1v2h-1zM946 335h1v2h-1zM947 337h1v2h-1zM948 339h1v2h-1zM949 341h1v2h-1zM950 343h1v2h-1zM951 345h1v2h-1zM952 347h1v2h-1zM953 349h1v2h-1zM954 351h1v3h-1zM955 354h1v2h-1zM956 356h1v2h-1zM957 358h1v2h-1zM958 360h1v3h-1zM959 363h1v2h-1zM960 365h1v2h-1zM961 367h1v2h-1zM962 369h1v3h-1zM963 372h1v4h-1zM964 376h1v4h-1zM965 380h1v4h-1zM966 384h1v2h-1zM967 386h1v2h-1zM968 388h1v1h-1zM969 389h1v2h-1zM970 391h1v1h-1zM971 392h1v2h-1zM972 394h1v1h-1zM973 395h1v2h-1zM974 397h1v1h-1zM975 398h1v1h-1zM976 399h1v1h-1zM977 400h1v1h-1zM983 400h1v2h-1zM984 399h1v1h-1zM985 397h1v2h-1zM986 396h1v1h-1zM987 397h1v1h-1zM988 398h1v1h-1zM989 399h1v1h-1zM990 400h1v1h-1zM991 401h1v2h-1zM992 403h1v1h-1zM993 404h1v2h-1zM994 406h1v1h-1zM995 407h1v2h-1zM996 409h1v1h-1zM997 410h1v2h-1zM998 412h1v2h-1zM999 414h1v2h-1zM1000 416h1v2h-1zM1001 418h1v2h-1zM1002 420h1v2h-1zM1003 422h1v1h-1zM1004 423h1v2h-1zM1005 425h1v1h-1zM1010 428h1v1h-1zM1011 429h1v1h-1zM1012 430h1v1h-1zM1013 431h1v1h-1zM1022 436h1v1h-1zM1023 435h1v1h-1zM1024 433h1v2h-1zM1025 432h1v1h-1zM1026 430h1v2h-1zM1027 427h1v3h-1zM1028 425h1v2h-1zM1029 422h1v3h-1zM1030 419h1v3h-1zM1031 415h1v4h-1zM1032 411h1v4h-1zM1033 407h1v4h-1zM1034 404h1v3h-1zM1035 402h1v2h-1zM1036 399h1v3h-1zM1037 397h1v2h-1zM1038 394h1v3h-1zM1039 391h1v3h-1zM1040 387h1v4h-1zM1041 384h1v3h-1zM1042 382h1v2h-1zM1043 381h1v1h-1zM1044 380h1v1h-1zM1045 379h1v1h-1zM1050 380h1v2h-1zM1051 382h1v2h-1zM1052 384h1v2h-1zM1053 386h1v2h-1zM1054 388h1v1h-1zM1055 387h1v1h-1zM1056 386h1v1h-1zM1057 385h1v1h-1zM1058 383h1v2h-1zM1059 380h1v3h-1zM1060 377h1v3h-1zM1061 374h1v3h-1zM1062 372h1v2h-1zM1063 370h1v2h-1zM1064 368h1v2h-1zM1065 366h1v2h-1zM1066 365h1v1h-1zM1067 363h1v2h-1zM1068 362h1v1h-1zM1069 360h1v2h-1zM1070 357h1v3h-1zM1071 353h1v4h-1zM1072 349h1v4h-1zM1073 345h1v4h-1zM1074 344h1v1h-1zM1078 341h1v1h-1zM1079 342h1v2h-1zM1080 344h1v2h-1zM1081 346h1v2h-1zM1087 345h1v2h-1zM1088 344h1v1h-1zM1089 342h1v2h-1zM1094 340h1v1h-1zM1095 337h1v3h-1zM1096 335h1v2h-1zM1097 332h1v3h-1zM1098 329h1v3h-1zM1099 326h1v3h-1zM1100 323h1v3h-1zM1101 320h1v3h-1zM1102 318h1v2h-1zM1103 316h1v2h-1zM1104 314h1v2h-1zM1105 312h1v2h-1zM1106 311h1v1h-1zM1107 309h1v2h-1zM1108 308h1v1h-1zM1109 306h1v2h-1zM1110 304h1v2h-1zM1111 300h1v4h-1zM1112 296h1v4h-1zM1113 292h1v4h-1zM1114 289h1v3h-1zM1115 287h1v2h-1zM1116 284h1v3h-1zM1117 282h1v2h-1zM1118 279h1v3h-1zM1119 276h1v3h-1zM1120 273h1v3h-1zM1121 270h1v3h-1zM1122 266h1v4h-1zM1123 261h1v5h-1zM1124 257h1v4h-1zM1125 252h1v5h-1zM1126 248h1v4h-1zM1127 244h1v4h-1zM1128 241h1v3h-1zM1129 237h1v4h-1zM1130 235h1v2h-1zM1133 233h1v1h-1zM1134 232h1v1h-1zM1135 233h1v1h-1zM1136 234h1v1h-1zM1137 235h1v1h-1zM1138 236h1v1h-1zM1139 237h1v2h-1zM1140 239h1v1h-1zM1141 240h1v2h-1zM1142 242h1v3h-1zM1143 245h1v4h-1zM1144 249h1v4h-1zM1145 253h1v4h-1zM1146 257h1v6h-1zM1147 263h1v6h-1zM1148 269h1v7h-1zM1149 276h1v6h-1zM1150 282h1v7h-1zM1151 289h1v6h-1zM1152 295h1v7h-1zM1153 302h1v6h-1zM1154 308h1v6h-1zM1155 314h1v4h-1zM1156 318h1v5h-1zM1157 323h1v4h-1zM1158 327h1v4h-1zM1159 331h1v2h-1zM1160 333h1v2h-1zM1161 335h1v2h-1zM1162 337h1v2h-1zM1163 339h1v1h-1zM1164 340h1v2h-1zM1165 342h1v1h-1zM1166 343h1v1h-1zM1167 341h1v2h-1zM1168 340h1v1h-1zM1169 338h1v2h-1zM1170 336h1v2h-1zM1171 334h1v2h-1zM1172 332h1v2h-1zM1173 330h1v2h-1zM1174 328h1v2h-1zM1175 326h1v2h-1zM1176 324h1v2h-1zM1177 322h1v2h-1zM1178 321h1v1h-1zM1182 322h1v1h-1zM1183 323h1v1h-1zM1184 324h1v1h-1zM1185 325h1v1h-1zM1186 326h1v1h-1zM1187 327h1v1h-1zM1188 328h1v2h-1zM1189 330h1v1h-1zM1190 331h1v1h-1zM1191 332h1v2h-1zM1192 334h1v1h-1zM1193 335h1v2h-1zM1194 337h1v2h-1zM1195 339h1v2h-1zM1196 341h1v2h-1zM1197 343h1v2h-1zM1198 345h1v2h-1zM1199 347h1v2h-1zM1200 349h1v3h-1zM1201 352h1v2h-1zM1202 354h1v2h-1zM1203 356h1v2h-1zM1204 358h1v1h-1zM1205 359h1v2h-1zM1206 361h1v2h-1zM1207 363h1v2h-1zM1208 365h1v2h-1zM1209 367h1v2h-1zM1210 369h1v2h-1zM1211 371h1v2h-1zM1212 373h1v2h-1zM1213 375h1v2h-1zM1214 377h1v3h-1zM1215 380h1v4h-1zM1216 384h1v5h-1zM1217 389h1v4h-1zM1218 393h1v4h-1zM1219 397h1v4h-1zM1220 401h1v4h-1zM1221 405h1v4h-1zM1222 409h1v4h-1zM1223 413h1v5h-1zM1224 418h1v4h-1zM1225 422h1v5h-1zM1226 427h1v5h-1zM1227 432h1v6h-1zM1228 438h1v5h-1zM1229 443h1v6h-1zM1230 449h1v5h-1zM1231 454h1v6h-1zM1232 460h1v5h-1zM1233 465h1v6h-1zM1234 471h1v4h-1zM1235 475h1v3h-1zM1236 478h1v2h-1zM1237 480h1v3h-1zM1238 483h1v3h-1zM1239 486h1v2h-1zM1240 488h1v3h-1zM1241 491h1v2h-1zM1242 493h1v1h-1zM1246 496h1v1h-1zM1247 494h1v2h-1zM1248 492h1v2h-1zM1249 490h1v2h-1zM1250 489h1v1h-1zM1251 487h1v2h-1zM1252 485h1v2h-1zM1253 483h1v2h-1zM1258 484h1v1h-1zM1261 486h1v1h-1zM1262 487h1v2h-1zM1263 489h1v2h-1zM1264 491h1v2h-1zM1265 493h1v2h-1zM1266 495h1v1h-1zM1267 496h1v1h-1zM1268 497h1v1h-1zM1269 498h1v1h-1zM1274 497h1v1h-1zM1275 495h1v2h-1zM1276 493h1v2h-1zM1277 491h1v2h-1zM1278 489h1v2h-1zM1279 487h1v2h-1zM1280 486h1v1h-1zM1281 484h1v2h-1zM1282 483h1v1h-1zM1283 482h1v1h-1zM1284 480h1v2h-1zM1285 479h1v1h-1zM1290 480h1v1h-1zM1291 481h1v2h-1zM1292 483h1v2h-1zM1293 485h1v2h-1zM1294 487h1v3h-1zM1295 490h1v2h-1zM1296 492h1v3h-1zM1297 495h1v2h-1zM1298 497h1v3h-1zM1299 500h1v4h-1zM1300 504h1v4h-1zM1301 508h1v4h-1zM1302 512h1v4h-1zM1303 516h1v4h-1zM1304 520h1v4h-1zM1305 524h1v4h-1zM1306 528h1v3h-1z" fill="#ffa500"/>
</g>
<rect x="6" y="144" width="1636" height="2" fill="#ff0000"/>
<rect x="6" y="233" width="1636" height="2" fill="#ff0000"/>
<rect x="6" y="320" width="1636" height="2" fill="#ff0000"/>
<rect x="6" y="431" width="1636" height="2" fill="#00ff00"/>
<rect x="6" y="523" width="1636" height="2" fill="#0000ff"/>
<path d="M1309 26h9v1h-9zM1310 27h7v1h-7zM1311 28h5v1h-5zM1312 29h3v1h-3zM1313 30h1v1h-1z" fill="#c0c0c0"/>
<line x1="7" x2="1642" y1="626.5" y2="626.5" stroke="#c0c0c0" stroke-dasharray="3 3"/>
<line x1="7" x2="1642" y1="667.5" y2="667.5" stroke="#c0c0c0" stroke-dasharray="3 3"/>
<path d="M6 655h3v1h-3zM9 656h4v1h-4zM13 657h2v1h-2zM15 658h2v1h-2zM27 653h2v1h-2zM35 649h2v1h-2zM38 647h3v1h-3zM41 648h4v1h-4zM45 647h2v1h-2zM49 644h2v1h-2zM54 654h2v1h-2zM58 648h5v1h-5zM66 642h5v1h-5zM79 652h2v1h-2zM83 655h2v1h-2zM86 657h2v1h-2zM88 656h2v1h-2zM90 655h2v1h-2zM92 656h2v1h-2zM98 662h3v1h-3zM101 661h3v1h-3zM104 660h2v1h-2zM106 659h2v1h-2zM108 658h2v1h-2zM110 657h3v1h-3zM113 656h2v1h-2zM118 650h3v1h-3zM121 649h2v1h-2zM130 648h2v1h-2zM132 649h2v1h-2zM138 646h6v1h-6zM144 647h2v1h-2zM154 648h2v1h-2zM156 649h2v1h-2zM165 639h2v1h-2zM170 651h3v1h-3zM173 650h2v1h-2zM178 646h3v1h-3zM181 647h2v1h-2zM185 644h2v1h-2zM194 643h2v1h-2zM196 644h2v1h-2zM198 645h2v1h-2zM200 646h2v1h-2zM202 647h3v1h-3zM205 646h2v1h-2zM207 645h2v1h-2zM210 643h3v1h-3zM213 642h2v1h-2zM226 636h3v1h-3zM229 637h4v1h-4zM233 636h3v1h-3zM236 637h2v1h-2zM238 638h3v1h-3zM241 639h2v1h-2zM246 643h3v1h-3zM249 644h4v1h-4zM253 643h2v1h-2zM255 644h2v1h-2zM266 664h2v1h-2zM268 665h3v1h-3zM274 658h3v1h-3zM277 659h2v1h-2zM279 658h2v1h-2zM282 656h2v1h-2zM284 657h2v1h-2zM286 658h5v1h-5zM298 659h3v1h-3zM301 660h2v1h-2zM303 661h2v1h-2zM307 662h2v1h-2zM310 660h3v1h-3zM313 661h2v1h-2zM315 662h2v1h-2zM322 658h5v1h-5zM330 666h6v1h-6zM336 667h2v1h-2zM339 669h2v1h-2zM343 672h2v1h-2zM346 674h3v1h-3zM349 675h2v1h-2zM354 663h2v1h-2zM358 667h3v1h-3zM361 666h2v1h-2zM363 665h2v1h-2zM374 653h2v1h-2zM376 654h2v1h-2zM378 655h2v1h-2zM380 654h2v1h-2zM383 654h2v1h-2zM386 656h5v1h-5zM394 651h2v1h-2zM396 650h2v1h-2zM410 643h2v1h-2zM412 642h2v1h-2zM418 637h5v1h-5zM426 647h2v1h-2zM428 648h2v1h-2zM430 649h2v1h-2zM432 650h2v1h-2zM442 663h3v1h-3zM445 664h6v1h-6zM451 663h2v1h-2zM454 661h3v1h-3zM457 662h2v1h-2zM462 648h7v1h-7zM469 647h2v1h-2zM474 640h2v1h-2zM476 639h2v1h-2zM479 637h2v1h-2zM482 635h3v1h-3zM485 634h3v1h-3zM488 633h2v1h-2zM490 632h2v1h-2zM492 631h3v1h-3zM498 645h5v1h-5zM506 634h2v1h-2zM514 646h3v1h-3zM519 645h2v1h-2zM531 646h2v1h-2zM538 640h2v1h-2zM540 639h2v1h-2zM542 638h2v1h-2zM544 637h2v1h-2zM550 640h3v1h-3zM553 639h2v1h-2zM555 638h2v1h-2zM558 636h3v1h-3zM561 637h4v1h-4zM565 636h4v1h-4zM569 637h2v1h-2zM586 661h9v1h-9zM603 663h2v1h-2zM610 671h3v1h-3zM613 672h4v1h-4zM617 673h4v1h-4zM621 674h4v1h-4zM625 675h2v1h-2zM630 661h2v1h-2zM632 662h2v1h-2zM634 663h3v1h-3zM637 664h2v1h-2zM639 665h2v1h-2zM641 666h2v1h-2zM646 659h2v1h-2zM654 657h11v1h-11zM665 658h4v1h-4zM669 657h2v1h-2zM671 656h2v1h-2zM678 658h2v1h-2zM680 659h2v1h-2zM682 660h3v1h-3zM685 659h2v1h-2zM694 657h2v1h-2zM696 658h2v1h-2zM698 659h3v1h-3zM701 660h4v1h-4zM705 661h7v1h-7zM712 662h3v1h-3zM730 635h2v1h-2zM732 636h2v1h-2zM738 633h2v1h-2zM740 634h2v1h-2zM742 635h2v1h-2zM744 636h2v1h-2zM746 637h2v1h-2zM748 636h2v1h-2zM750 635h2v1h-2zM752 634h2v1h-2zM754 633h2v1h-2zM756 634h2v1h-2zM759 636h2v1h-2zM762 638h2v1h-2zM764 639h2v1h-2zM767 641h2v1h-2zM778 658h3v1h-3zM781 659h3v1h-3zM784 658h2v1h-2zM789 652h2v1h-2zM794 659h3v1h-3zM797 658h3v1h-3zM800 657h2v1h-2zM802 656h5v1h-5zM807 657h2v1h-2zM814 665h3v1h-3zM817 666h2v1h-2zM822 652h2v1h-2zM824 651h2v1h-2zM826 650h2v1h-2zM828 649h2v1h-2zM838 657h3v1h-3zM841 656h2v1h-2zM850 641h3v1h-3zM853 642h2v1h-2zM858 648h2v1h-2zM860 649h2v1h-2zM862 650h5v1h-5zM871 637h2v1h-2zM874 635h3v1h-3zM877 634h4v1h-4zM881 633h6v1h-6zM895 643h2v1h-2zM899 642h2v1h-2zM910 636h3v1h-3zM913 635h2v1h-2zM915 634h2v1h-2zM919 631h2v1h-2zM922 629h3v1h-3zM925 630h2v1h-2zM927 631h2v1h-2zM930 633h3v1h-3zM933 634h4v1h-4zM937 635h3v1h-3zM940 636h2v1h-2zM946 644h2v1h-2zM948 645h2v1h-2zM950 646h3v1h-3zM953 647h3v1h-3zM956 648h2v1h-2zM959 650h2v1h-2zM970 652h10v1h-10zM980 651h2v1h-2zM983 651h2v1h-2zM990 657h2v1h-2zM992 658h2v1h-2zM994 659h6v1h-6zM1000 660h2v1h-2zM1006 657h3v1h-3zM1009 658h2v1h-2zM1011 659h2v1h-2zM1014 661h3v1h-3zM1017 660h3v1h-3zM1020 661h3v1h-3zM1031 638h2v1h-2zM1038 643h3v1h-3zM1041 642h8v1h-8zM1049 643h2v1h-2zM1053 649h2v1h-2zM1066 638h3v1h-3zM1069 639h2v1h-2zM1073 635h2v1h-2zM1078 643h5v1h-5zM1090 635h2v1h-2zM1092 636h2v1h-2zM1098 633h3v1h-3zM1101 632h4v1h-4zM1105 633h3v1h-3zM1108 632h2v1h-2zM1114 625h2v1h-2zM1116 626h2v1h-2zM1119 626h2v1h-2zM1123 623h2v1h-2zM1127 622h2v1h-2zM1138 640h5v1h-5zM1150 656h2v1h-2zM1152 657h2v1h-2zM1154 658h5v1h-5zM1162 647h3v1h-3zM1165 648h8v1h-8zM1173 649h4v1h-4zM1177 648h3v1h-3zM1180 649h2v1h-2zM1183 651h2v1h-2zM1186 653h3v1h-3zM1189 654h3v1h-3zM1192 655h2v1h-2zM1194 656h3v1h-3zM1197 657h2v1h-2zM1203 660h2v1h-2zM1210 662h3v1h-3zM1213 663h2v1h-2zM1218 671h3v1h-3zM1221 672h3v1h-3zM1224 673h2v1h-2zM1227 675h2v1h-2zM1230 677h3v1h-3zM1233 678h4v1h-4zM1237 677h6v1h-6zM1250 661h3v1h-3zM1253 662h2v1h-2zM1258 669h3v1h-3zM1261 670h4v1h-4zM1265 669h2v1h-2zM1274 652h2v1h-2zM1276 653h2v1h-2zM1282 658h7v1h-7zM1289 657h2v1h-2zM1291 658h2v1h-2zM1302 670h3v1h-3zM1305 671h2v1h-2zM17 659h1v1h-1zM18 660h1v1h-1zM19 659h1v1h-1zM20 658h1v1h-1zM21 657h1v1h-1zM22 656h1v1h-1zM23 655h1v1h-1zM24 654h1v1h-1zM25 653h1v1h-1zM26 652h1v1h-1zM29 654h1v1h-1zM30 655h1v1h-1zM31 654h1v1h-1zM32 652h1v2h-1zM33 651h1v1h-1zM34 650h1v1h-1zM37 648h1v1h-1zM47 646h1v1h-1zM48 645h1v1h-1zM50 643h1v1h-1zM51 645h1v3h-1zM52 648h1v3h-1zM53 651h1v3h-1zM54 655h1v1h-1zM55 653h1v1h-1zM56 651h1v2h-1zM57 649h1v2h-1zM63 646h1v2h-1zM64 645h1v1h-1zM65 643h1v2h-1zM71 643h1v1h-1zM72 644h1v2h-1zM73 646h1v1h-1zM74 647h1v1h-1zM75 648h1v1h-1zM76 649h1v1h-1zM77 650h1v1h-1zM78 651h1v1h-1zM81 653h1v1h-1zM82 654h1v1h-1zM85 656h1v1h-1zM94 657h1v1h-1zM95 658h1v1h-1zM96 659h1v2h-1zM97 661h1v1h-1zM115 654h1v2h-1zM116 653h1v1h-1zM117 651h1v2h-1zM123 650h1v1h-1zM124 651h1v2h-1zM125 653h1v1h-1zM126 654h1v1h-1zM127 652h1v2h-1zM128 651h1v1h-1zM129 649h1v2h-1zM134 650h1v1h-1zM135 649h1v1h-1zM136 648h1v1h-1zM137 647h1v1h-1zM146 648h1v1h-1zM147 647h1v1h-1zM148 646h1v1h-1zM149 645h1v1h-1zM150 644h1v1h-1zM151 645h1v1h-1zM152 646h1v1h-1zM153 647h1v1h-1zM158 650h1v1h-1zM159 648h1v2h-1zM160 646h1v2h-1zM161 644h1v2h-1zM162 643h1v1h-1zM163 642h1v1h-1zM164 640h1v2h-1zM166 638h1v1h-1zM167 640h1v3h-1zM168 643h1v4h-1zM169 647h1v3h-1zM170 650h1v1h-1zM175 649h1v1h-1zM176 648h1v1h-1zM177 647h1v1h-1zM183 646h1v1h-1zM184 645h1v1h-1zM186 643h1v1h-1zM187 645h1v2h-1zM188 647h1v3h-1zM189 650h1v2h-1zM190 652h1v2h-1zM191 650h1v2h-1zM192 647h1v3h-1zM193 645h1v2h-1zM194 644h1v1h-1zM209 644h1v1h-1zM215 641h1v1h-1zM216 640h1v1h-1zM217 639h1v1h-1zM218 638h1v1h-1zM219 639h1v1h-1zM220 640h1v1h-1zM221 641h1v1h-1zM222 642h1v1h-1zM223 640h1v2h-1zM224 639h1v1h-1zM225 637h1v2h-1zM243 640h1v1h-1zM244 641h1v1h-1zM245 642h1v1h-1zM257 645h1v1h-1zM258 646h1v2h-1zM259 648h1v2h-1zM260 650h1v2h-1zM261 652h1v2h-1zM262 654h1v2h-1zM263 656h1v2h-1zM264 658h1v3h-1zM265 661h1v2h-1zM266 663h1v1h-1zM270 666h1v1h-1zM271 663h1v2h-1zM272 661h1v2h-1zM273 659h1v2h-1zM281 657h1v1h-1zM291 659h1v1h-1zM292 660h1v2h-1zM293 662h1v1h-1zM294 663h1v1h-1zM295 662h1v1h-1zM296 661h1v1h-1zM297 660h1v1h-1zM305 662h1v1h-1zM306 663h1v1h-1zM309 661h1v1h-1zM317 663h1v1h-1zM318 664h1v1h-1zM319 662h1v2h-1zM320 661h1v1h-1zM321 659h1v2h-1zM326 659h1v1h-1zM327 660h1v2h-1zM328 662h1v2h-1zM329 664h1v2h-1zM338 668h1v1h-1zM341 670h1v1h-1zM342 671h1v1h-1zM345 673h1v1h-1zM350 674h1v1h-1zM351 671h1v3h-1zM352 667h1v4h-1zM353 664h1v3h-1zM354 662h1v1h-1zM356 664h1v2h-1zM357 666h1v1h-1zM365 664h1v1h-1zM366 663h1v1h-1zM367 661h1v2h-1zM368 660h1v1h-1zM369 658h1v2h-1zM370 657h1v1h-1zM371 656h1v1h-1zM372 655h1v1h-1zM373 654h1v1h-1zM382 653h1v1h-1zM385 655h1v1h-1zM391 655h1v1h-1zM392 653h1v2h-1zM393 652h1v1h-1zM398 649h1v1h-1zM399 648h1v1h-1zM400 647h1v1h-1zM401 646h1v1h-1zM402 645h1v1h-1zM403 643h1v2h-1zM404 642h1v1h-1zM405 640h1v2h-1zM406 639h1v1h-1zM407 640h1v1h-1zM408 641h1v1h-1zM409 642h1v1h-1zM414 641h1v1h-1zM415 640h1v1h-1zM416 639h1v1h-1zM417 638h1v1h-1zM422 638h1v1h-1zM423 639h1v2h-1zM424 641h1v3h-1zM425 644h1v2h-1zM426 646h1v1h-1zM434 651h1v1h-1zM435 652h1v2h-1zM436 654h1v1h-1zM437 655h1v2h-1zM438 657h1v1h-1zM439 658h1v2h-1zM440 660h1v1h-1zM441 661h1v2h-1zM453 662h1v1h-1zM458 661h1v1h-1zM459 657h1v4h-1zM460 654h1v3h-1zM461 650h1v4h-1zM462 649h1v1h-1zM471 645h1v2h-1zM472 643h1v2h-1zM473 641h1v2h-1zM478 638h1v1h-1zM481 636h1v1h-1zM494 630h1v1h-1zM495 632h1v4h-1zM496 636h1v4h-1zM497 640h1v4h-1zM498 644h1v1h-1zM502 644h1v1h-1zM503 641h1v3h-1zM504 638h1v3h-1zM505 635h1v3h-1zM506 633h1v1h-1zM508 635h1v1h-1zM509 636h1v1h-1zM510 637h1v2h-1zM511 639h1v2h-1zM512 641h1v3h-1zM513 644h1v2h-1zM514 647h1v1h-1zM517 645h1v1h-1zM518 644h1v1h-1zM521 646h1v1h-1zM522 647h1v1h-1zM523 648h1v2h-1zM524 650h1v1h-1zM525 651h1v2h-1zM526 653h1v1h-1zM527 651h1v2h-1zM528 650h1v1h-1zM529 648h1v2h-1zM530 647h1v1h-1zM533 645h1v1h-1zM534 644h1v1h-1zM535 643h1v1h-1zM536 642h1v1h-1zM537 641h1v1h-1zM546 636h1v1h-1zM547 637h1v1h-1zM548 638h1v1h-1zM549 639h1v1h-1zM557 637h1v1h-1zM570 638h1v1h-1zM571 639h1v2h-1zM572 641h1v2h-1zM573 643h1v2h-1zM574 645h1v2h-1zM575 647h1v1h-1zM576 648h1v2h-1zM577 650h1v1h-1zM578 651h1v1h-1zM579 652h1v1h-1zM580 653h1v1h-1zM581 654h1v1h-1zM582 655h1v1h-1zM583 656h1v2h-1zM584 658h1v1h-1zM585 659h1v2h-1zM595 662h1v1h-1zM596 663h1v2h-1zM597 665h1v1h-1zM598 666h1v1h-1zM599 665h1v1h-1zM600 664h1v1h-1zM601 663h1v1h-1zM602 662h1v1h-1zM605 664h1v1h-1zM606 665h1v1h-1zM607 666h1v2h-1zM608 668h1v1h-1zM609 669h1v2h-1zM626 674h1v1h-1zM627 670h1v4h-1zM628 667h1v3h-1zM629 663h1v4h-1zM630 662h1v1h-1zM642 667h1v1h-1zM643 664h1v2h-1zM644 662h1v2h-1zM645 660h1v2h-1zM646 658h1v1h-1zM647 660h1v1h-1zM648 661h1v1h-1zM649 662h1v2h-1zM650 664h1v1h-1zM651 662h1v2h-1zM652 660h1v2h-1zM653 658h1v2h-1zM673 655h1v1h-1zM674 654h1v1h-1zM675 655h1v1h-1zM676 656h1v1h-1zM677 657h1v1h-1zM687 657h1v2h-1zM688 656h1v1h-1zM689 654h1v2h-1zM690 653h1v1h-1zM691 654h1v1h-1zM692 655h1v1h-1zM693 656h1v1h-1zM714 663h1v1h-1zM715 659h1v3h-1zM716 657h1v2h-1zM717 654h1v3h-1zM718 651h1v3h-1zM719 649h1v2h-1zM720 647h1v2h-1zM721 645h1v2h-1zM722 644h1v1h-1zM723 643h1v1h-1zM724 642h1v1h-1zM725 641h1v1h-1zM726 640h1v1h-1zM727 639h1v1h-1zM728 637h1v2h-1zM729 636h1v1h-1zM734 637h1v1h-1zM735 636h1v1h-1zM736 635h1v1h-1zM737 634h1v1h-1zM758 635h1v1h-1zM761 637h1v1h-1zM766 640h1v1h-1zM769 642h1v1h-1zM770 643h1v2h-1zM771 645h1v3h-1zM772 648h1v2h-1zM773 650h1v3h-1zM774 653h1v2h-1zM775 655h1v1h-1zM776 656h1v1h-1zM777 657h1v1h-1zM786 657h1v1h-1zM787 655h1v2h-1zM788 654h1v1h-1zM789 653h1v1h-1zM790 651h1v1h-1zM791 653h1v2h-1zM792 655h1v2h-1zM793 657h1v2h-1zM809 658h1v1h-1zM810 659h1v1h-1zM811 660h1v2h-1zM812 662h1v1h-1zM813 663h1v2h-1zM818 665h1v1h-1zM819 661h1v4h-1zM820 658h1v3h-1zM821 654h1v4h-1zM822 653h1v1h-1zM830 648h1v1h-1zM831 649h1v1h-1zM832 650h1v2h-1zM833 652h1v1h-1zM834 653h1v1h-1zM835 654h1v1h-1zM836 655h1v1h-1zM837 656h1v1h-1zM842 655h1v1h-1zM843 653h1v2h-1zM844 651h1v2h-1zM845 649h1v2h-1zM846 647h1v2h-1zM847 645h1v2h-1zM848 644h1v1h-1zM849 642h1v2h-1zM855 643h1v2h-1zM856 645h1v1h-1zM857 646h1v2h-1zM866 649h1v1h-1zM867 646h1v3h-1zM868 643h1v3h-1zM869 640h1v3h-1zM870 638h1v2h-1zM873 636h1v1h-1zM887 634h1v1h-1zM888 635h1v1h-1zM889 636h1v1h-1zM890 637h1v1h-1zM891 638h1v2h-1zM892 640h1v2h-1zM893 642h1v2h-1zM894 644h1v1h-1zM897 642h1v1h-1zM898 641h1v1h-1zM901 643h1v1h-1zM902 644h1v1h-1zM903 643h1v1h-1zM904 642h1v1h-1zM905 641h1v1h-1zM906 640h1v1h-1zM907 639h1v1h-1zM908 638h1v1h-1zM909 637h1v1h-1zM917 633h1v1h-1zM918 632h1v1h-1zM921 630h1v1h-1zM929 632h1v1h-1zM942 637h1v1h-1zM943 638h1v2h-1zM944 640h1v2h-1zM945 642h1v2h-1zM958 649h1v1h-1zM961 651h1v1h-1zM962 652h1v2h-1zM963 654h1v3h-1zM964 657h1v2h-1zM965 659h1v3h-1zM966 662h1v2h-1zM967 659h1v3h-1zM968 657h1v2h-1zM969 654h1v3h-1zM970 653h1v1h-1zM982 650h1v1h-1zM985 652h1v1h-1zM986 653h1v1h-1zM987 654h1v1h-1zM988 655h1v1h-1zM989 656h1v1h-1zM1002 661h1v1h-1zM1003 660h1v1h-1zM1004 659h1v1h-1zM1005 658h1v1h-1zM1013 660h1v1h-1zM1022 660h1v1h-1zM1022 662h1v1h-1zM1023 656h1v4h-1zM1024 652h1v4h-1zM1025 648h1v4h-1zM1026 645h1v3h-1zM1027 643h1v2h-1zM1028 642h1v1h-1zM1029 640h1v2h-1zM1030 639h1v1h-1zM1033 637h1v1h-1zM1034 636h1v1h-1zM1035 637h1v2h-1zM1036 639h1v2h-1zM1037 641h1v2h-1zM1051 644h1v2h-1zM1052 646h1v2h-1zM1053 648h1v1h-1zM1054 650h1v1h-1zM1055 646h1v3h-1zM1056 644h1v2h-1zM1057 641h1v3h-1zM1058 638h1v3h-1zM1059 636h1v2h-1zM1060 634h1v2h-1zM1061 632h1v2h-1zM1062 631h1v1h-1zM1063 632h1v2h-1zM1064 634h1v2h-1zM1065 636h1v2h-1zM1071 638h1v1h-1zM1072 636h1v2h-1zM1074 634h1v1h-1zM1075 636h1v2h-1zM1076 638h1v2h-1zM1077 640h1v2h-1zM1078 642h1v1h-1zM1083 642h1v1h-1zM1084 641h1v1h-1zM1085 640h1v1h-1zM1086 639h1v1h-1zM1087 638h1v1h-1zM1088 637h1v1h-1zM1089 636h1v1h-1zM1094 637h1v1h-1zM1095 636h1v1h-1zM1096 635h1v1h-1zM1097 634h1v1h-1zM1110 631h1v1h-1zM1111 629h1v2h-1zM1112 628h1v1h-1zM1113 626h1v2h-1zM1118 627h1v1h-1zM1121 625h1v1h-1zM1122 624h1v1h-1zM1125 622h1v1h-1zM1126 621h1v1h-1zM1129 623h1v1h-1zM1130 624h1v1h-1zM1131 625h1v1h-1zM1132 626h1v1h-1zM1133 627h1v1h-1zM1134 628h1v2h-1zM1135 630h1v3h-1zM1136 633h1v3h-1zM1137 636h1v3h-1zM1138 639h1v1h-1zM1143 641h1v1h-1zM1144 642h1v2h-1zM1145 644h1v1h-1zM1146 645h1v2h-1zM1147 647h1v3h-1zM1148 650h1v2h-1zM1149 652h1v3h-1zM1150 655h1v1h-1zM1158 657h1v1h-1zM1159 654h1v3h-1zM1160 652h1v2h-1zM1161 649h1v3h-1zM1162 648h1v1h-1zM1182 650h1v1h-1zM1185 652h1v1h-1zM1199 658h1v1h-1zM1200 659h1v1h-1zM1201 660h1v1h-1zM1202 661h1v1h-1zM1205 659h1v1h-1zM1206 658h1v1h-1zM1207 659h1v1h-1zM1208 660h1v1h-1zM1209 661h1v1h-1zM1214 664h1v1h-1zM1215 665h1v2h-1zM1216 667h1v2h-1zM1217 669h1v2h-1zM1226 674h1v1h-1zM1229 676h1v1h-1zM1242 676h1v1h-1zM1243 673h1v3h-1zM1244 671h1v2h-1zM1245 668h1v3h-1zM1246 666h1v2h-1zM1247 665h1v1h-1zM1248 663h1v2h-1zM1249 662h1v1h-1zM1255 663h1v2h-1zM1256 665h1v2h-1zM1257 667h1v2h-1zM1266 668h1v1h-1zM1267 665h1v3h-1zM1268 662h1v3h-1zM1269 659h1v3h-1zM1270 657h1v2h-1zM1271 656h1v1h-1zM1272 654h1v2h-1zM1273 653h1v1h-1zM1278 654h1v1h-1zM1279 655h1v1h-1zM1280 656h1v1h-1zM1281 657h1v1h-1zM1293 659h1v1h-1zM1294 660h1v1h-1zM1295 661h1v1h-1zM1296 662h1v1h-1zM1297 663h1v1h-1zM1298 664h1v1h-1zM1299 665h1v2h-1zM1300 667h1v1h-1zM1301 668h1v2h-1z" fill="#1e90ff"/>
<g clip-path="url(#cd)">
<path d="M6 739h1V748h-1zM10 746h1V748h-1zM14 747h1V753h-1zM18 747h1V759h-1zM22 747h1V762h-1zM26 747h1V762h-1zM30 747h1V764h-1zM34 747h1V763h-1zM38 747h1V761h-1zM42 747h1V759h-1zM46 747h1V757h-1zM50 747h1V754h-1zM54 747h1V757h-1zM58 747h1V756h-1zM62 747h1V755h-1zM66 747h1V751h-1zM70 747h1V748h-1zM74 747h1V748h-1zM78 747h1V750h-1zM82 747h1V753h-1zM86 747h1V757h-1zM90 747h1V759h-1zM94 747h1V762h-1zM98 747h1V766h-1zM102 747h1V770h-1zM106 747h1V771h-1zM110 747h1V772h-1zM114 747h1V771h-1zM118 747h1V769h-1zM122 747h1V766h-1zM126 747h1V766h-1zM130 747h1V763h-1zM134 747h1V762h-1zM138 747h1V759h-1zM142 747h1V757h-1zM146 747h1V756h-1zM150 747h1V754h-1zM154 747h1V753h-1zM158 747h1V753h-1zM162 747h1V751h-1zM166 746h1V748h-1zM170 747h1V749h-1zM174 747h1V750h-1zM178 747h1V750h-1zM182 747h1V749h-1zM186 747h1V748h-1zM190 747h1V751h-1zM194 747h1V748h-1zM198 746h1V748h-1zM202 746h1V748h-1zM206 746h1V748h-1zM210 744h1V748h-1zM214 743h1V748h-1zM218 740h1V748h-1zM222 739h1V748h-1zM226 735h1V748h-1zM230 733h1V748h-1zM234 731h1V748h-1zM238 730h1V748h-1zM242 730h1V748h-1zM246 731h1V748h-1zM250 733h1V748h-1zM254 734h1V748h-1zM258 736h1V748h-1zM262 740h1V748h-1zM266 747h1V749h-1zM270 747h1V757h-1zM274 747h1V761h-1zM278 747h1V764h-1zM282 747h1V765h-1zM286 747h1V767h-1zM290 747h1V768h-1zM294 747h1V771h-1zM298 747h1V772h-1zM302 747h1V773h-1zM306 747h1V775h-1zM310 747h1V775h-1zM314 747h1V776h-1zM318 747h1V777h-1zM322 747h1V777h-1zM326 747h1V776h-1zM330 747h1V779h-1zM334 747h1V780h-1zM338 747h1V783h-1zM342 747h1V786h-1zM346 747h1V790h-1zM350 747h1V793h-1zM354 747h1V792h-1zM358 747h1V793h-1zM362 747h1V793h-1zM366 747h1V792h-1zM370 747h1V789h-1zM374 747h1V785h-1zM378 747h1V782h-1zM382 747h1V779h-1zM386 747h1V777h-1zM390 747h1V776h-1zM394 747h1V773h-1zM398 747h1V770h-1zM402 747h1V766h-1zM406 747h1V760h-1zM410 747h1V757h-1zM414 747h1V753h-1zM418 747h1V749h-1zM422 745h1V748h-1zM426 745h1V748h-1zM430 746h1V748h-1zM434 747h1V748h-1zM438 747h1V752h-1zM442 747h1V758h-1zM446 747h1V762h-1zM450 747h1V766h-1zM454 747h1V768h-1zM458 747h1V769h-1zM462 747h1V767h-1zM466 747h1V764h-1zM470 747h1V761h-1zM474 747h1V757h-1zM478 747h1V752h-1zM482 747h1V748h-1zM486 743h1V748h-1zM490 739h1V748h-1zM494 735h1V748h-1zM498 736h1V748h-1zM502 737h1V748h-1zM506 733h1V748h-1zM510 731h1V748h-1zM514 734h1V748h-1zM518 734h1V748h-1zM522 736h1V748h-1zM526 741h1V748h-1zM530 742h1V748h-1zM534 742h1V748h-1zM538 739h1V748h-1zM542 737h1V748h-1zM546 734h1V748h-1zM550 733h1V748h-1zM554 732h1V748h-1zM558 730h1V748h-1zM562 729h1V748h-1zM566 728h1V748h-1zM570 728h1V748h-1zM574 731h1V748h-1zM578 735h1V748h-1zM582 740h1V748h-1zM586 747h1V748h-1zM590 747h1V754h-1zM594 747h1V758h-1zM598 747h1V764h-1zM602 747h1V767h-1zM606 747h1V772h-1zM610 747h1V779h-1zM614 747h1V784h-1zM618 747h1V790h-1zM622 747h1V794h-1zM626 747h1V798h-1zM630 747h1V797h-1zM634 747h1V796h-1zM638 747h1V795h-1zM642 747h1V797h-1zM646 747h1V794h-1zM650 747h1V796h-1zM654 747h1V793h-1zM658 747h1V791h-1zM662 747h1V789h-1zM666 747h1V787h-1zM670 747h1V785h-1zM674 747h1V782h-1zM678 747h1V781h-1zM682 747h1V781h-1zM686 747h1V781h-1zM690 747h1V778h-1zM694 747h1V777h-1zM698 747h1V777h-1zM702 747h1V778h-1zM706 747h1V778h-1zM710 747h1V778h-1zM714 747h1V779h-1zM718 747h1V776h-1zM722 747h1V770h-1zM726 747h1V764h-1zM730 747h1V757h-1zM734 747h1V751h-1zM738 744h1V748h-1zM742 740h1V748h-1zM746 738h1V748h-1zM750 735h1V748h-1zM754 732h1V748h-1zM758 730h1V748h-1zM762 729h1V748h-1zM766 730h1V748h-1zM770 731h1V748h-1zM774 736h1V748h-1zM778 742h1V748h-1zM782 747h1V748h-1zM786 747h1V752h-1zM790 747h1V753h-1zM794 747h1V756h-1zM798 747h1V759h-1zM802 747h1V760h-1zM806 747h1V762h-1zM810 747h1V763h-1zM814 747h1V768h-1zM818 747h1V771h-1zM822 747h1V769h-1zM826 747h1V767h-1zM830 747h1V765h-1zM834 747h1V764h-1zM838 747h1V765h-1zM842 747h1V766h-1zM846 747h1V763h-1zM850 747h1V758h-1zM854 747h1V755h-1zM858 747h1V754h-1zM862 747h1V755h-1zM866 747h1V755h-1zM870 747h1V750h-1zM874 744h1V748h-1zM878 739h1V748h-1zM882 735h1V748h-1zM886 732h1V748h-1zM890 731h1V748h-1zM894 732h1V748h-1zM898 732h1V748h-1zM902 734h1V748h-1zM906 733h1V748h-1zM910 732h1V748h-1zM914 730h1V748h-1zM918 728h1V748h-1zM922 724h1V748h-1zM926 722h1V748h-1zM930 722h1V748h-1zM934 722h1V748h-1zM938 722h1V748h-1zM942 723h1V748h-1zM946 726h1V748h-1zM950 729h1V748h-1zM954 732h1V748h-1zM958 735h1V748h-1zM962 738h1V748h-1zM966 745h1V748h-1zM970 747h1V748h-1zM974 747h1V750h-1zM978 747h1V751h-1zM982 747h1V752h-1zM986 747h1V753h-1zM990 747h1V755h-1zM994 747h1V757h-1zM998 747h1V759h-1zM1002 747h1V761h-1zM1006 747h1V762h-1zM1010 747h1V763h-1zM1014 747h1V764h-1zM1018 747h1V764h-1zM1022 747h1V765h-1zM1026 747h1V762h-1zM1030 747h1V758h-1zM1034 747h1V753h-1zM1038 747h1V751h-1zM1042 747h1V750h-1zM1046 747h1V748h-1zM1050 746h1V748h-1zM1054 747h1V748h-1zM1058 744h1V748h-1zM1062 739h1V748h-1zM1066 737h1V748h-1zM1070 736h1V748h-1zM1074 733h1V748h-1zM1078 734h1V748h-1zM1082 734h1V748h-1zM1086 733h1V748h-1zM1090 731h1V748h-1zM1094 730h1V748h-1zM1098 728h1V748h-1zM1102 726h1V748h-1zM1106 725h1V748h-1zM1110 723h1V748h-1zM1114 719h1V748h-1zM1118 717h1V748h-1zM1122 714h1V748h-1zM1126 710h1V748h-1zM1130 708h1V748h-1zM1134 708h1V748h-1zM1138 711h1V748h-1zM1142 714h1V748h-1zM1146 719h1V748h-1zM1150 727h1V748h-1zM1154 735h1V748h-1zM1158 741h1V748h-1zM1162 743h1V748h-1zM1166 744h1V748h-1zM1170 745h1V748h-1zM1174 746h1V748h-1zM1178 747h1V748h-1zM1182 747h1V749h-1zM1186 747h1V751h-1zM1190 747h1V752h-1zM1194 747h1V754h-1zM1198 747h1V757h-1zM1202 747h1V759h-1zM1206 747h1V761h-1zM1210 747h1V763h-1zM1214 747h1V766h-1zM1218 747h1V771h-1zM1222 747h1V776h-1zM1226 747h1V781h-1zM1230 747h1V786h-1zM1234 747h1V791h-1zM1238 747h1V794h-1zM1242 747h1V796h-1zM1246 747h1V794h-1zM1250 747h1V792h-1zM1254 747h1V789h-1zM1258 747h1V791h-1zM1262 747h1V792h-1zM1266 747h1V792h-1zM1270 747h1V789h-1zM1274 747h1V785h-1zM1278 747h1V782h-1zM1282 747h1V780h-1zM1286 747h1V779h-1zM1290 747h1V777h-1zM1294 747h1V777h-1zM1298 747h1V778h-1zM1302 747h1V782h-1zM1306 747h1V785h-1z" fill="#c0c0c0"/>
<path d="M6 732h3v1h-3zM12 733h2v1h-2zM42 758h3v1h-3zM48 759h3v1h-3zM54 759h3v1h-3zM61 757h2v1h-2zM66 756h2v1h-2zM73 753h2v1h-2zM78 752h3v1h-3zM84 752h3v1h-3zM90 752h3v1h-3zM97 754h2v1h-2zM103 757h2v1h-2zM108 760h2v1h-2zM114 764h3v1h-3zM121 766h2v1h-2zM126 767h3v1h-3zM132 767h3v1h-3zM138 766h2v1h-2zM144 763h2v1h-2zM150 760h3v1h-3zM156 758h2v1h-2zM162 756h2v1h-2zM168 753h2v1h-2zM174 751h3v1h-3zM181 750h2v1h-2zM186 749h3v1h-3zM193 748h2v1h-2zM198 748h3v1h-3zM205 747h2v1h-2zM210 747h3v1h-3zM217 745h2v1h-2zM222 744h3v1h-3zM228 742h2v1h-2zM234 740h2v1h-2zM240 737h2v1h-2zM246 735h2v1h-2zM252 733h3v1h-3zM258 732h3v1h-3zM264 734h2v1h-2zM300 764h2v1h-2zM306 767h2v1h-2zM313 770h2v1h-2zM318 772h3v1h-3zM325 774h2v1h-2zM330 775h3v1h-3zM336 776h2v1h-2zM342 778h3v1h-3zM348 780h2v1h-2zM354 783h2v1h-2zM360 786h2v1h-2zM366 788h3v1h-3zM372 789h3v1h-3zM378 789h3v1h-3zM384 787h2v1h-2zM390 784h2v1h-2zM403 775h2v1h-2zM415 766h2v1h-2zM427 756h2v1h-2zM438 750h3v1h-3zM444 750h3v1h-3zM450 752h2v1h-2zM456 755h2v1h-2zM462 759h2v1h-2zM469 762h2v1h-2zM474 763h3v1h-3zM480 761h2v1h-2zM487 757h2v1h-2zM499 747h2v1h-2zM510 739h2v1h-2zM517 736h2v1h-2zM522 735h3v1h-3zM529 736h2v1h-2zM534 737h3v1h-3zM540 737h3v1h-3zM546 738h3v1h-3zM553 737h2v1h-2zM558 737h2v1h-2zM565 734h2v1h-2zM570 732h3v1h-3zM576 731h3v1h-3zM582 732h3v1h-3zM588 734h2v1h-2zM635 786h2v1h-2zM646 793h3v1h-3zM653 795h2v1h-2zM658 794h3v1h-3zM665 792h2v1h-2zM670 791h2v1h-2zM677 788h2v1h-2zM682 786h3v1h-3zM688 784h2v1h-2zM694 781h3v1h-3zM701 779h2v1h-2zM706 778h3v1h-3zM712 778h3v1h-3zM718 777h3v1h-3zM724 775h2v1h-2zM731 771h2v1h-2zM770 734h3v1h-3zM777 734h2v1h-2zM782 735h2v1h-2zM788 738h2v1h-2zM795 743h2v1h-2zM807 752h2v1h-2zM818 759h2v1h-2zM824 762h2v1h-2zM830 764h3v1h-3zM837 765h2v1h-2zM842 765h3v1h-3zM849 764h2v1h-2zM854 763h2v1h-2zM861 760h2v1h-2zM866 758h3v1h-3zM872 756h2v1h-2zM879 751h2v1h-2zM890 743h2v1h-2zM896 740h2v1h-2zM902 736h3v1h-3zM908 734h2v1h-2zM914 732h3v1h-3zM920 731h3v1h-3zM926 730h3v1h-3zM932 728h2v1h-2zM938 726h3v1h-3zM945 724h2v1h-2zM950 724h3v1h-3zM957 726h2v1h-2zM962 728h2v1h-2zM975 737h2v1h-2zM987 745h2v1h-2zM992 748h2v1h-2zM998 751h2v1h-2zM1004 754h2v1h-2zM1010 756h3v1h-3zM1016 758h2v1h-2zM1022 760h3v1h-3zM1028 761h3v1h-3zM1034 760h3v1h-3zM1041 758h2v1h-2zM1046 756h2v1h-2zM1053 753h2v1h-2zM1058 750h2v1h-2zM1064 747h2v1h-2zM1070 744h2v1h-2zM1076 741h2v1h-2zM1082 739h3v1h-3zM1088 737h2v1h-2zM1094 734h3v1h-3zM1101 732h2v1h-2zM1106 731h3v1h-3zM1112 729h2v1h-2zM1118 726h2v1h-2zM1130 719h2v1h-2zM1136 716h2v1h-2zM1142 714h3v1h-3zM1149 714h2v1h-2zM1155 717h2v1h-2zM1184 743h2v1h-2zM1190 746h3v1h-3zM1196 748h2v1h-2zM1202 750h2v1h-2zM1208 753h2v1h-2zM1214 756h2v1h-2zM1239 777h2v1h-2zM1250 786h2v1h-2zM1257 789h2v1h-2zM1262 791h3v1h-3zM1268 791h3v1h-3zM1274 790h3v1h-3zM1280 788h2v1h-2zM1286 786h2v1h-2zM1293 783h2v1h-2zM1298 781h3v1h-3zM1305 779h2v1h-2zM14 734h1v1h-1zM18 737h1v1h-1zM19 738h1v1h-1zM20 739h1v1h-1zM24 743h1v1h-1zM25 744h1v1h-1zM26 745h1v1h-1zM30 749h1v1h-1zM31 750h1v1h-1zM32 751h1v1h-1zM36 754h1v1h-1zM37 755h1v1h-1zM38 756h1v1h-1zM60 758h1v1h-1zM68 755h1v1h-1zM72 754h1v1h-1zM96 753h1v1h-1zM102 756h1v1h-1zM110 761h1v1h-1zM120 765h1v1h-1zM140 765h1v1h-1zM146 762h1v1h-1zM158 757h1v1h-1zM164 755h1v1h-1zM170 752h1v1h-1zM180 751h1v1h-1zM192 749h1v1h-1zM204 748h1v1h-1zM216 746h1v1h-1zM230 741h1v1h-1zM236 739h1v1h-1zM242 736h1v1h-1zM248 734h1v1h-1zM266 735h1v1h-1zM270 737h1v1h-1zM271 738h1v1h-1zM272 739h1v1h-1zM276 742h1v1h-1zM277 743h1v1h-1zM278 744h1v1h-1zM282 748h1v1h-1zM283 749h1v1h-1zM284 750h1v1h-1zM288 753h1v1h-1zM289 754h1v1h-1zM290 755h1v1h-1zM294 759h1v1h-1zM295 760h1v1h-1zM296 761h1v1h-1zM302 765h1v1h-1zM308 768h1v1h-1zM312 769h1v1h-1zM324 773h1v1h-1zM338 777h1v1h-1zM350 781h1v1h-1zM356 784h1v1h-1zM362 787h1v1h-1zM386 786h1v1h-1zM392 783h1v1h-1zM396 781h1v1h-1zM397 780h1v1h-1zM398 779h1v1h-1zM402 776h1v1h-1zM408 772h1v1h-1zM409 771h1v1h-1zM410 770h1v1h-1zM414 767h1v1h-1zM420 762h1v1h-1zM421 761h1v1h-1zM422 760h1v1h-1zM426 757h1v1h-1zM432 753h1v1h-1zM433 752h1v1h-1zM434 751h1v1h-1zM452 753h1v1h-1zM458 756h1v1h-1zM464 760h1v1h-1zM468 761h1v1h-1zM482 760h1v1h-1zM486 758h1v1h-1zM492 753h1v1h-1zM493 752h1v1h-1zM494 751h1v1h-1zM498 748h1v1h-1zM504 744h1v1h-1zM505 743h1v1h-1zM506 742h1v1h-1zM512 738h1v1h-1zM516 737h1v1h-1zM528 735h1v1h-1zM552 738h1v1h-1zM560 736h1v1h-1zM564 735h1v1h-1zM590 735h1v1h-1zM594 738h1v1h-1zM595 739h1v1h-1zM596 740h1v1h-1zM600 744h1v2h-1zM601 746h1v1h-1zM605 750h1v1h-1zM606 751h1v1h-1zM607 752h1v1h-1zM609 756h1v1h-1zM610 757h1v1h-1zM611 758h1v1h-1zM614 762h1v1h-1zM615 763h1v1h-1zM616 764h1v1h-1zM619 768h1v2h-1zM620 770h1v1h-1zM623 774h1v1h-1zM624 775h1v1h-1zM625 776h1v1h-1zM628 780h1v1h-1zM629 781h1v1h-1zM630 782h1v1h-1zM634 785h1v1h-1zM640 789h1v1h-1zM641 790h1v1h-1zM642 791h1v1h-1zM652 794h1v1h-1zM664 793h1v1h-1zM672 790h1v1h-1zM676 789h1v1h-1zM690 783h1v1h-1zM700 780h1v1h-1zM726 774h1v1h-1zM730 772h1v1h-1zM736 767h1v1h-1zM737 766h1v1h-1zM738 765h1v1h-1zM742 761h1v1h-1zM743 760h1v1h-1zM744 759h1v1h-1zM748 754h1v2h-1zM749 753h1v1h-1zM752 749h1v1h-1zM753 748h1v1h-1zM754 747h1v1h-1zM758 743h1v1h-1zM759 742h1v1h-1zM760 741h1v1h-1zM764 738h1v1h-1zM765 737h1v1h-1zM766 736h1v1h-1zM776 733h1v1h-1zM784 736h1v1h-1zM790 739h1v1h-1zM794 742h1v1h-1zM800 746h1v1h-1zM801 747h1v1h-1zM802 748h1v1h-1zM806 751h1v1h-1zM812 755h1v1h-1zM813 756h1v1h-1zM814 757h1v1h-1zM820 760h1v1h-1zM826 763h1v1h-1zM836 764h1v1h-1zM848 765h1v1h-1zM856 762h1v1h-1zM860 761h1v1h-1zM874 755h1v1h-1zM878 752h1v1h-1zM884 748h1v1h-1zM885 747h1v1h-1zM886 746h1v1h-1zM892 742h1v1h-1zM898 739h1v1h-1zM910 733h1v1h-1zM934 727h1v1h-1zM944 725h1v1h-1zM956 725h1v1h-1zM964 729h1v1h-1zM968 731h1v1h-1zM969 732h1v1h-1zM970 733h1v1h-1zM974 736h1v1h-1zM980 740h1v1h-1zM981 741h1v1h-1zM982 742h1v1h-1zM986 744h1v1h-1zM994 749h1v1h-1zM1000 752h1v1h-1zM1006 755h1v1h-1zM1018 759h1v1h-1zM1040 759h1v1h-1zM1048 755h1v1h-1zM1052 754h1v1h-1zM1060 749h1v1h-1zM1066 746h1v1h-1zM1072 743h1v1h-1zM1078 740h1v1h-1zM1090 736h1v1h-1zM1100 733h1v1h-1zM1114 728h1v1h-1zM1120 725h1v1h-1zM1124 723h1v1h-1zM1125 722h1v1h-1zM1126 721h1v1h-1zM1132 718h1v1h-1zM1138 715h1v1h-1zM1148 713h1v1h-1zM1154 716h1v1h-1zM1160 721h1v1h-1zM1161 722h1v1h-1zM1162 723h1v1h-1zM1166 727h1v1h-1zM1167 728h1v1h-1zM1168 729h1v1h-1zM1172 733h1v1h-1zM1173 734h1v1h-1zM1174 735h1v1h-1zM1178 738h1v1h-1zM1179 739h1v1h-1zM1180 740h1v1h-1zM1186 744h1v1h-1zM1198 749h1v1h-1zM1204 751h1v1h-1zM1210 754h1v1h-1zM1216 757h1v1h-1zM1220 759h1v1h-1zM1221 760h1v1h-1zM1222 761h1v1h-1zM1226 764h1v1h-1zM1227 765h1v1h-1zM1228 766h1v1h-1zM1232 770h1v1h-1zM1233 771h1v1h-1zM1234 772h1v1h-1zM1238 776h1v1h-1zM1244 781h1v1h-1zM1245 782h1v1h-1zM1246 783h1v1h-1zM1252 787h1v1h-1zM1256 788h1v1h-1zM1282 787h1v1h-1zM1288 785h1v1h-1zM1292 784h1v1h-1zM1304 780h1v1h-1z" fill="#ff0000"/>
</g>
<path d="M5 25H1643V593H5z M6 26V592H1642V26z" fill="#000" fill-rule="evenodd"/>
<path d="M5 594H1643V699H5z M6 595V698H1642V595z" fill="#000" fill-rule="evenodd"/>
<path d="M5 700H1643V804H5z M6 701V803H1642V701z" fill="#000" fill-rule="evenodd"/>
<path d="M1643 28h2v1h-2zM1643 61h2v1h-2zM1643 94h2v1h-2zM1643 127h2v1h-2zM1643 160h2v1h-2zM1643 193h2v1h-2zM1643 226h2v1h-2zM1643 259h2v1h-2zM1643 292h2v1h-2zM1643 325h2v1h-2zM1643 358h2v1h-2zM1643 391h2v1h-2zM1643 424h2v1h-2zM1643 457h2v1h-2zM1643 490h2v1h-2zM1643 523h2v1h-2zM1643 556h2v1h-2zM1643 589h2v1h-2zM1643 596h2v1h-2zM1643 697h2v1h-2zM1643 702h2v1h-2zM1643 747h2v1h-2zM1643 802h1v1h-1zM6 804h1v3h-1zM70 804h1v3h-1zM134 804h1v3h-1zM198 804h1v3h-1zM262 804h1v3h-1zM326 804h1v3h-1zM390 804h1v3h-1zM454 804h1v3h-1zM518 804h1v3h-1zM582 804h1v3h-1zM646 804h1v3h-1zM710 804h1v3h-1zM774 804h1v3h-1zM838 804h1v3h-1zM902 804h1v3h-1zM966 804h1v3h-1zM1030 804h1v3h-1zM1094 804h1v3h-1zM1158 804h1v3h-1zM1222 804h1v3h-1zM1286 804h1v3h-1z" fill="#000"/>
</svg>
<svg class="a" style="left:9px;top:32px" width="7" height="4" viewBox="0 0 7 4" shape-rendering="crispEdges"><path d="M0 0h7v1h-7zM1 1h5v1h-5zM2 2h3v1h-3zM3 3h1v1h-1z" fill="#000"/></svg>
<div class="t" style="left:21.50px;top:28px;font-size:10px;line-height:12px;color:#000;letter-spacing:-0.136px;">AUDUSD,Daily</div>
<div class="t" style="left:92.60px;top:28px;font-size:10px;line-height:12px;color:#000;letter-spacing:-0.352px;">0.66262 0.66270 0.66094 0.66180</div>
<div class="t" style="left:1647.70px;top:23px;font-size:10px;line-height:12px;color:#000;letter-spacing:-0.335px;">0.72340</div>
<div class="t" style="left:1647.70px;top:56px;font-size:10px;line-height:12px;color:#000;letter-spacing:-0.335px;">0.71970</div>
<div class="t" style="left:1647.70px;top:89px;font-size:10px;line-height:12px;color:#000;letter-spacing:-0.335px;">0.71590</div>
<div class="t" style="left:1647.70px;top:122px;font-size:10px;line-height:12px;color:#000;letter-spacing:-0.335px;">0.71220</div>
<div class="t" style="left:1647.70px;top:155px;font-size:10px;line-height:12px;color:#000;letter-spacing:-0.335px;">0.70840</div>
<div class="t" style="left:1647.70px;top:188px;font-size:10px;line-height:12px;color:#000;letter-spacing:-0.335px;">0.70470</div>
<div class="t" style="left:1647.70px;top:221px;font-size:10px;line-height:12px;color:#000;letter-spacing:-0.335px;">0.70090</div>
<div class="t" style="left:1647.70px;top:254px;font-size:10px;line-height:12px;color:#000;letter-spacing:-0.335px;">0.69720</div>
<div class="t" style="left:1647.70px;top:287px;font-size:10px;line-height:12px;color:#000;letter-spacing:-0.335px;">0.69340</div>
<div class="t" style="left:1647.70px;top:320px;font-size:10px;line-height:12px;color:#000;letter-spacing:-0.335px;">0.68970</div>
<div class="t" style="left:1647.70px;top:353px;font-size:10px;line-height:12px;color:#000;letter-spacing:-0.335px;">0.68590</div>
<div class="t" style="left:1647.70px;top:386px;font-size:10px;line-height:12px;color:#000;letter-spacing:-0.335px;">0.68220</div>
<div class="t" style="left:1647.70px;top:419px;font-size:10px;line-height:12px;color:#000;letter-spacing:-0.335px;">0.67840</div>
<div class="t" style="left:1647.70px;top:452px;font-size:10px;line-height:12px;color:#000;letter-spacing:-0.335px;">0.67470</div>
<div class="t" style="left:1647.70px;top:485px;font-size:10px;line-height:12px;color:#000;letter-spacing:-0.335px;">0.67090</div>
<div class="t" style="left:1647.70px;top:518px;font-size:10px;line-height:12px;color:#000;letter-spacing:-0.335px;">0.66720</div>
<div class="t" style="left:1647.70px;top:551px;font-size:10px;line-height:12px;color:#000;letter-spacing:-0.335px;">0.66340</div>
<div class="t" style="left:1647.70px;top:584px;font-size:10px;line-height:12px;color:#000;letter-spacing:-0.335px;">0.65970</div>
<div class="a" style="left:1644px;top:139px;width:41px;height:11px;background:#ff0000"></div>
<div class="t" style="left:1647.70px;top:139px;font-size:10px;line-height:12px;color:#fff;letter-spacing:-0.335px;">0.71016</div>
<div class="a" style="left:1644px;top:228px;width:41px;height:11px;background:#ff0000"></div>
<div class="t" style="left:1647.70px;top:228px;font-size:10px;line-height:12px;color:#fff;letter-spacing:-0.335px;">0.70007</div>
<div class="a" style="left:1644px;top:315px;width:41px;height:11px;background:#ff0000"></div>
<div class="t" style="left:1647.70px;top:315px;font-size:10px;line-height:12px;color:#fff;letter-spacing:-0.335px;">0.69010</div>
<div class="a" style="left:1644px;top:426px;width:41px;height:11px;background:#00ff00"></div>
<div class="t" style="left:1647.70px;top:426px;font-size:10px;line-height:12px;color:#fff;letter-spacing:-0.335px;">0.67754</div>
<div class="a" style="left:1644px;top:518px;width:41px;height:11px;background:#0000ff"></div>
<div class="t" style="left:1647.70px;top:518px;font-size:10px;line-height:12px;color:#fff;letter-spacing:-0.335px;">0.66706</div>
<div class="a" style="left:1644px;top:565px;width:41px;height:11px;background:#000000"></div>
<div class="t" style="left:1647.70px;top:565px;font-size:10px;line-height:12px;color:#fff;letter-spacing:-0.335px;">0.66180</div>
<div class="t" style="left:1644.60px;top:596px;font-size:10px;line-height:12px;color:#000;letter-spacing:-0.360px;">100</div>
<div class="t" style="left:1644.60px;top:621px;font-size:10px;line-height:12px;color:#000;letter-spacing:-0.360px;">70</div>
<div class="t" style="left:1644.60px;top:662px;font-size:10px;line-height:12px;color:#000;letter-spacing:-0.360px;">30</div>
<div class="t" style="left:1644.60px;top:686px;font-size:10px;line-height:12px;color:#000;letter-spacing:-0.360px;">0</div>
<div class="t" style="left:1645.40px;top:702px;font-size:10px;line-height:12px;color:#000;letter-spacing:-0.338px;">0.005076</div>
<div class="t" style="left:1645.40px;top:742px;font-size:10px;line-height:12px;color:#000;letter-spacing:-0.315px;">0.00</div>
<div class="t" style="left:1645.40px;top:791px;font-size:10px;line-height:12px;color:#000;letter-spacing:-0.324px;">-0.006148</div>
<div class="t" style="left:9.60px;top:598px;font-size:10px;line-height:12px;color:#000;letter-spacing:-0.292px;">RSI(14) 26.8496</div>
<div class="t" style="left:9.60px;top:704px;font-size:10px;line-height:12px;color:#000;letter-spacing:-0.306px;">MACD(12,26,9) -0.004103 -0.003618</div>
<div class="t" style="left:4.40px;top:807px;font-size:10px;line-height:12px;color:#000;letter-spacing:-0.329px;">7 Feb 2019</div>
<div class="t" style="left:68.40px;top:807px;font-size:10px;line-height:12px;color:#000;letter-spacing:-0.332px;">26 Feb 2019</div>
<div class="t" style="left:132.40px;top:807px;font-size:10px;line-height:12px;color:#000;letter-spacing:-0.332px;">16 Mar 2019</div>
<div class="t" style="left:196.40px;top:807px;font-size:10px;line-height:12px;color:#000;letter-spacing:-0.314px;">4 Apr 2019</div>
<div class="t" style="left:260.40px;top:807px;font-size:10px;line-height:12px;color:#000;letter-spacing:-0.319px;">23 Apr 2019</div>
<div class="t" style="left:324.40px;top:807px;font-size:10px;line-height:12px;color:#000;letter-spacing:-0.337px;">11 May 2019</div>
<div class="t" style="left:388.40px;top:807px;font-size:10px;line-height:12px;color:#000;letter-spacing:-0.342px;">30 May 2019</div>
<div class="t" style="left:452.40px;top:807px;font-size:10px;line-height:12px;color:#000;letter-spacing:-0.325px;">18 Jun 2019</div>
<div class="t" style="left:516.40px;top:807px;font-size:10px;line-height:12px;color:#000;letter-spacing:-0.300px;">6 Jul 2019</div>
<div class="t" style="left:580.40px;top:807px;font-size:10px;line-height:12px;color:#000;letter-spacing:-0.306px;">25 Jul 2019</div>
<div class="t" style="left:644.40px;top:807px;font-size:10px;line-height:12px;color:#000;letter-spacing:-0.332px;">13 Aug 2019</div>
<div class="t" style="left:708.40px;top:807px;font-size:10px;line-height:12px;color:#000;letter-spacing:-0.332px;">31 Aug 2019</div>
<div class="t" style="left:772.40px;top:807px;font-size:10px;line-height:12px;color:#000;letter-spacing:-0.335px;">19 Sep 2019</div>
<div class="t" style="left:836.40px;top:807px;font-size:10px;line-height:12px;color:#000;letter-spacing:-0.318px;">8 Oct 2019</div>
<div class="t" style="left:900.40px;top:807px;font-size:10px;line-height:12px;color:#000;letter-spacing:-0.322px;">26 Oct 2019</div>
<div class="t" style="left:964.40px;top:807px;font-size:10px;line-height:12px;color:#000;letter-spacing:-0.335px;">14 Nov 2019</div>
<div class="t" style="left:1028.40px;top:807px;font-size:10px;line-height:12px;color:#000;letter-spacing:-0.332px;">3 Dec 2019</div>
<div class="t" style="left:1092.40px;top:807px;font-size:10px;line-height:12px;color:#000;letter-spacing:-0.335px;">21 Dec 2019</div>
<div class="t" style="left:1156.40px;top:807px;font-size:10px;line-height:12px;color:#000;letter-spacing:-0.322px;">9 Jan 2020</div>
<div class="t" style="left:1220.40px;top:807px;font-size:10px;line-height:12px;color:#000;letter-spacing:-0.325px;">28 Jan 2020</div>
<div class="t" style="left:1284.40px;top:807px;font-size:10px;line-height:12px;color:#000;letter-spacing:-0.332px;">15 Feb 2020</div>
<div class="a" style="left:211px;top:826px;width:104px;height:19px;background:#fff;box-sizing:border-box;border:1px solid #000;border-top:none"></div>
<div class="a" style="left:212px;top:826px;width:102px;height:1px;background:#fff"></div>
<div class="a" style="left:213px;top:845px;width:103px;height:1px;background:#696969"></div>
<div class="a" style="left:315px;top:828px;width:1px;height:17px;background:#696969"></div>
<div class="t" style="left:19.00px;top:829.60px;font-size:12px;line-height:14px;color:#6e6e6e;letter-spacing:-0.056px;">EURUSD,Daily</div>
<div class="t" style="left:121.00px;top:829.60px;font-size:12px;line-height:14px;color:#6e6e6e;letter-spacing:0.027px;">USDCHF,Daily</div>
<div class="t" style="left:222.40px;top:829.60px;font-size:12px;line-height:14px;color:#000;letter-spacing:0.077px;">AUDUSD,Daily</div>
<div class="t" style="left:326.20px;top:829.60px;font-size:12px;line-height:14px;color:#6e6e6e;letter-spacing:0.010px;">USDCAD,Daily</div>
<div class="t" style="left:429.50px;top:829.60px;font-size:12px;line-height:14px;color:#6e6e6e;letter-spacing:0.097px;">USDCNH,Daily</div>
<div class="t" style="left:535.00px;top:829.60px;font-size:12px;line-height:14px;color:#6e6e6e;letter-spacing:-0.090px;">EURUSD,Daily</div>
<div class="t" style="left:638.80px;top:829.60px;font-size:12px;line-height:14px;color:#6e6e6e;letter-spacing:-0.040px;">GBPUSD,Daily</div>
<div class="a" style="left:111px;top:830px;width:1px;height:13px;background:#8c8c8c"></div>
<div class="a" style="left:419px;top:830px;width:1px;height:13px;background:#8c8c8c"></div>
<div class="a" style="left:523px;top:830px;width:1px;height:13px;background:#8c8c8c"></div>
<div class="a" style="left:627px;top:830px;width:1px;height:13px;background:#8c8c8c"></div>
<div class="a" style="left:732px;top:830px;width:1px;height:13px;background:#8c8c8c"></div>
<svg class="a" style="left:1655px;top:830px" width="28" height="11" viewBox="1655 830 28 11"><path d="M1661.3 831.4v7.2l-3.8-3.6z M1677 831.4v7.2l3.8-3.6z" fill="#a0a0a0"/></svg>
</body></html>
